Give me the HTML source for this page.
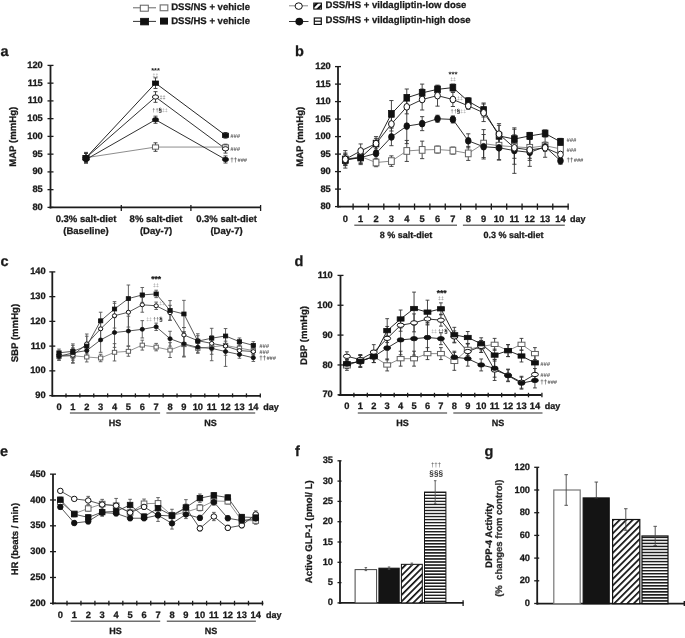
<!DOCTYPE html><html><head><meta charset="utf-8"><style>html,body{margin:0;padding:0;background:#fff;}svg{display:block;filter:blur(0.3px);}text{font-family:"Liberation Sans", sans-serif;text-rendering:geometricPrecision;}</style></head><body>
<svg width="685" height="638" viewBox="0 0 685 638">
<rect width="685" height="638" fill="#fff"/>
<defs><pattern id="diag" patternUnits="userSpaceOnUse" width="4.6" height="4.6" patternTransform="rotate(45)"><rect width="4.6" height="4.6" fill="#fff"/><rect x="0" y="0" width="1.7" height="4.6" fill="#111"/></pattern><pattern id="hstr" patternUnits="userSpaceOnUse" x="0" y="0.695" width="6" height="3.03"><rect width="6" height="3.03" fill="#fff"/><rect x="0" y="0" width="6" height="1.5" fill="#1e1e1e"/></pattern><pattern id="hstrg" patternUnits="userSpaceOnUse" x="0" y="0.245" width="6" height="3.03"><rect width="6" height="3.03" fill="#fff"/><rect x="0" y="0" width="6" height="1.6" fill="#1e1e1e"/></pattern></defs>
<line x1="133" y1="7.8" x2="156" y2="7.8" stroke="#666" stroke-width="1" />
<rect x="140.3" y="5.2" width="8" height="6" fill="#fff" stroke="#606060" stroke-width="1"/>
<rect x="160.2" y="4.9" width="7.6" height="5.8" fill="#fff" stroke="#777" stroke-width="1.2"/>
<text x="171.2" y="9.9" font-size="9.55" text-anchor="start" font-weight="bold" fill="#1a1a1a" stroke="#1a1a1a" stroke-width="0.28">DSS/NS + vehicle</text>
<line x1="133" y1="21.4" x2="156" y2="21.4" stroke="#333" stroke-width="1.0" />
<rect x="140.6" y="18.3" width="8" height="6.6" fill="#111" stroke="#111" stroke-width="0.8"/>
<rect x="160" y="17.6" width="8" height="7" fill="#111"/>
<text x="171.2" y="23.7" font-size="9.55" text-anchor="start" font-weight="bold" fill="#1a1a1a" stroke="#1a1a1a" stroke-width="0.28">DSS/HS + vehicle</text>
<line x1="289" y1="5.8" x2="308" y2="5.8" stroke="#888" stroke-width="1" />
<ellipse cx="298.7" cy="6.1" rx="3.6" ry="3.3" fill="#fff" stroke="#111" stroke-width="1"/>
<rect x="313.8" y="3.1" width="7.6" height="6" fill="#fff" stroke="#111" stroke-width="1.1"/>
<clipPath id="lgc"><rect x="313.8" y="3.1" width="7.6" height="5.8"/></clipPath><g clip-path="url(#lgc)"><path d="M312.6 7.6 L318.2 2.0 M316.6 10.2 L322.6 4.2" stroke="#111" stroke-width="2.2" fill="none"/></g>
<text x="325.5" y="8" font-size="9.55" text-anchor="start" font-weight="bold" fill="#1a1a1a" stroke="#1a1a1a" stroke-width="0.28">DSS/HS + vildagliptin-low dose</text>
<line x1="289" y1="21.5" x2="308.5" y2="21.5" stroke="#333" stroke-width="1.0" />
<ellipse cx="299.3" cy="21.6" rx="3.9" ry="3.8" fill="#111"/>
<rect x="314.3" y="18" width="7" height="6.4" fill="#fff" stroke="#111" stroke-width="1.2"/>
<line x1="314.3" y1="21.2" x2="321.3" y2="21.2" stroke="#111" stroke-width="1.2" />
<text x="325.5" y="22.8" font-size="9.55" text-anchor="start" font-weight="bold" fill="#1a1a1a" stroke="#1a1a1a" stroke-width="0.28">DSS/HS + vildagliptin-high dose</text>
<text x="0.5" y="55.8" font-size="14.5" text-anchor="start" font-weight="bold" fill="#1a1a1a" stroke="#1a1a1a" stroke-width="0.28">a</text>
<line x1="50.5" y1="65.4" x2="50.5" y2="208.5" stroke="#1c1c1c" stroke-width="1.8" />
<line x1="47.5" y1="207.4" x2="53.5" y2="207.4" stroke="#1c1c1c" stroke-width="1.3" />
<text x="42.8" y="209.95" font-size="9.3" text-anchor="end" font-weight="bold" fill="#1a1a1a" stroke="#1a1a1a" stroke-width="0.28">80</text>
<line x1="47.5" y1="189.65" x2="53.5" y2="189.65" stroke="#1c1c1c" stroke-width="1.3" />
<text x="42.8" y="192.2" font-size="9.3" text-anchor="end" font-weight="bold" fill="#1a1a1a" stroke="#1a1a1a" stroke-width="0.28">85</text>
<line x1="47.5" y1="171.9" x2="53.5" y2="171.9" stroke="#1c1c1c" stroke-width="1.3" />
<text x="42.8" y="174.45" font-size="9.3" text-anchor="end" font-weight="bold" fill="#1a1a1a" stroke="#1a1a1a" stroke-width="0.28">90</text>
<line x1="47.5" y1="154.15" x2="53.5" y2="154.15" stroke="#1c1c1c" stroke-width="1.3" />
<text x="42.8" y="156.7" font-size="9.3" text-anchor="end" font-weight="bold" fill="#1a1a1a" stroke="#1a1a1a" stroke-width="0.28">95</text>
<line x1="47.5" y1="136.4" x2="53.5" y2="136.4" stroke="#1c1c1c" stroke-width="1.3" />
<text x="42.8" y="138.95" font-size="9.3" text-anchor="end" font-weight="bold" fill="#1a1a1a" stroke="#1a1a1a" stroke-width="0.28">100</text>
<line x1="47.5" y1="118.65" x2="53.5" y2="118.65" stroke="#1c1c1c" stroke-width="1.3" />
<text x="42.8" y="121.2" font-size="9.3" text-anchor="end" font-weight="bold" fill="#1a1a1a" stroke="#1a1a1a" stroke-width="0.28">105</text>
<line x1="47.5" y1="100.9" x2="53.5" y2="100.9" stroke="#1c1c1c" stroke-width="1.3" />
<text x="42.8" y="103.45" font-size="9.3" text-anchor="end" font-weight="bold" fill="#1a1a1a" stroke="#1a1a1a" stroke-width="0.28">110</text>
<line x1="47.5" y1="83.15" x2="53.5" y2="83.15" stroke="#1c1c1c" stroke-width="1.3" />
<text x="42.8" y="85.7" font-size="9.3" text-anchor="end" font-weight="bold" fill="#1a1a1a" stroke="#1a1a1a" stroke-width="0.28">115</text>
<line x1="47.5" y1="65.4" x2="53.5" y2="65.4" stroke="#1c1c1c" stroke-width="1.3" />
<text x="42.8" y="67.95" font-size="9.3" text-anchor="end" font-weight="bold" fill="#1a1a1a" stroke="#1a1a1a" stroke-width="0.28">120</text>
<line x1="49.6" y1="207.4" x2="261" y2="207.4" stroke="#1c1c1c" stroke-width="1.8" />
<line x1="121.3" y1="205" x2="121.3" y2="211" stroke="#1c1c1c" stroke-width="1.3" />
<line x1="190.9" y1="205" x2="190.9" y2="211" stroke="#1c1c1c" stroke-width="1.3" />
<line x1="260.6" y1="205" x2="260.6" y2="211" stroke="#1c1c1c" stroke-width="1.3" />
<text transform="translate(13,136.8) rotate(-90)" x="0" y="3.46" font-size="9.6" text-anchor="middle" font-weight="bold" fill="#1a1a1a" stroke="#1a1a1a" stroke-width="0.28">MAP (mmHg)</text>
<text x="86" y="222.1" font-size="9.5" text-anchor="middle" font-weight="bold" fill="#1a1a1a" stroke="#1a1a1a" stroke-width="0.28">0.3% salt-diet</text>
<text x="86" y="233.7" font-size="9.5" text-anchor="middle" font-weight="bold" fill="#1a1a1a" stroke="#1a1a1a" stroke-width="0.28">(Baseline)</text>
<text x="156" y="222.1" font-size="9.5" text-anchor="middle" font-weight="bold" fill="#1a1a1a" stroke="#1a1a1a" stroke-width="0.28">8% salt-diet</text>
<text x="156" y="233.7" font-size="9.5" text-anchor="middle" font-weight="bold" fill="#1a1a1a" stroke="#1a1a1a" stroke-width="0.28">(Day-7)</text>
<text x="226.5" y="222.1" font-size="9.5" text-anchor="middle" font-weight="bold" fill="#1a1a1a" stroke="#1a1a1a" stroke-width="0.28">0.3% salt-diet</text>
<text x="226.5" y="233.7" font-size="9.5" text-anchor="middle" font-weight="bold" fill="#1a1a1a" stroke="#1a1a1a" stroke-width="0.28">(Day-7)</text>
<polyline points="86,157.7 155.5,147.05 225.5,147.05" fill="none" stroke="#808080" stroke-width="0.9"/>
<polyline points="86,157.7 155.5,97 225.5,148.83" fill="none" stroke="#1a1a1a" stroke-width="0.9"/>
<polyline points="86,157.7 155.5,83.15 225.5,135.34" fill="none" stroke="#1a1a1a" stroke-width="0.95"/>
<polyline points="86,159.48 155.5,119.72 225.5,159.48" fill="none" stroke="#1a1a1a" stroke-width="0.9"/>
<line x1="86" y1="152.38" x2="86" y2="163.03" stroke="#333" stroke-width="0.9" />
<line x1="84" y1="152.38" x2="88" y2="152.38" stroke="#333" stroke-width="0.9" />
<line x1="84" y1="163.03" x2="88" y2="163.03" stroke="#333" stroke-width="0.9" />
<line x1="155.5" y1="142.79" x2="155.5" y2="151.31" stroke="#333" stroke-width="0.9" />
<line x1="153.5" y1="142.79" x2="157.5" y2="142.79" stroke="#333" stroke-width="0.9" />
<line x1="153.5" y1="151.31" x2="157.5" y2="151.31" stroke="#333" stroke-width="0.9" />
<line x1="225.5" y1="144.21" x2="225.5" y2="149.89" stroke="#333" stroke-width="0.9" />
<line x1="223.5" y1="144.21" x2="227.5" y2="144.21" stroke="#333" stroke-width="0.9" />
<line x1="223.5" y1="149.89" x2="227.5" y2="149.89" stroke="#333" stroke-width="0.9" />
<line x1="86" y1="153.44" x2="86" y2="161.96" stroke="#333" stroke-width="0.9" />
<line x1="84" y1="153.44" x2="88" y2="153.44" stroke="#333" stroke-width="0.9" />
<line x1="84" y1="161.96" x2="88" y2="161.96" stroke="#333" stroke-width="0.9" />
<line x1="155.5" y1="91.67" x2="155.5" y2="102.32" stroke="#333" stroke-width="0.9" />
<line x1="153.5" y1="91.67" x2="157.5" y2="91.67" stroke="#333" stroke-width="0.9" />
<line x1="153.5" y1="102.32" x2="157.5" y2="102.32" stroke="#333" stroke-width="0.9" />
<line x1="225.5" y1="144.56" x2="225.5" y2="153.09" stroke="#333" stroke-width="0.9" />
<line x1="223.5" y1="144.56" x2="227.5" y2="144.56" stroke="#333" stroke-width="0.9" />
<line x1="223.5" y1="153.09" x2="227.5" y2="153.09" stroke="#333" stroke-width="0.9" />
<line x1="86" y1="153.44" x2="86" y2="161.96" stroke="#333" stroke-width="0.9" />
<line x1="84" y1="153.44" x2="88" y2="153.44" stroke="#333" stroke-width="0.9" />
<line x1="84" y1="161.96" x2="88" y2="161.96" stroke="#333" stroke-width="0.9" />
<line x1="155.5" y1="77.83" x2="155.5" y2="88.48" stroke="#333" stroke-width="0.9" />
<line x1="153.5" y1="77.83" x2="157.5" y2="77.83" stroke="#333" stroke-width="0.9" />
<line x1="153.5" y1="88.48" x2="157.5" y2="88.48" stroke="#333" stroke-width="0.9" />
<line x1="225.5" y1="132.5" x2="225.5" y2="138.18" stroke="#333" stroke-width="0.9" />
<line x1="223.5" y1="132.5" x2="227.5" y2="132.5" stroke="#333" stroke-width="0.9" />
<line x1="223.5" y1="138.18" x2="227.5" y2="138.18" stroke="#333" stroke-width="0.9" />
<line x1="86" y1="155.93" x2="86" y2="163.03" stroke="#333" stroke-width="0.9" />
<line x1="84" y1="155.93" x2="88" y2="155.93" stroke="#333" stroke-width="0.9" />
<line x1="84" y1="163.03" x2="88" y2="163.03" stroke="#333" stroke-width="0.9" />
<line x1="155.5" y1="116.17" x2="155.5" y2="123.27" stroke="#333" stroke-width="0.9" />
<line x1="153.5" y1="116.17" x2="157.5" y2="116.17" stroke="#333" stroke-width="0.9" />
<line x1="153.5" y1="123.27" x2="157.5" y2="123.27" stroke="#333" stroke-width="0.9" />
<line x1="225.5" y1="155.93" x2="225.5" y2="163.03" stroke="#333" stroke-width="0.9" />
<line x1="223.5" y1="155.93" x2="227.5" y2="155.93" stroke="#333" stroke-width="0.9" />
<line x1="223.5" y1="163.03" x2="227.5" y2="163.03" stroke="#333" stroke-width="0.9" />
<rect x="82.95" y="155.55" width="6.1" height="4.3" fill="#fff" stroke="#606060" stroke-width="1"/>
<rect x="152.45" y="144.9" width="6.1" height="4.3" fill="#fff" stroke="#606060" stroke-width="1"/>
<rect x="222.45" y="144.9" width="6.1" height="4.3" fill="#fff" stroke="#606060" stroke-width="1"/>
<ellipse cx="86" cy="157.7" rx="3.05" ry="2.15" fill="#fff" stroke="#111" stroke-width="1"/>
<ellipse cx="155.5" cy="97" rx="3.05" ry="2.15" fill="#fff" stroke="#111" stroke-width="1"/>
<ellipse cx="225.5" cy="148.83" rx="3.05" ry="2.15" fill="#fff" stroke="#111" stroke-width="1"/>
<rect x="82.95" y="155.55" width="6.1" height="4.3" fill="#111" stroke="#111" stroke-width="0.8"/>
<rect x="152.45" y="81" width="6.1" height="4.3" fill="#111" stroke="#111" stroke-width="0.8"/>
<rect x="222.45" y="133.19" width="6.1" height="4.3" fill="#111" stroke="#111" stroke-width="0.8"/>
<ellipse cx="86" cy="159.48" rx="3.05" ry="2.15" fill="#111" stroke="#111" stroke-width="0.8"/>
<ellipse cx="155.5" cy="119.72" rx="3.05" ry="2.15" fill="#111" stroke="#111" stroke-width="0.8"/>
<ellipse cx="225.5" cy="159.48" rx="3.05" ry="2.15" fill="#111" stroke="#111" stroke-width="0.8"/>
<text x="155.5" y="73" font-size="7.4" text-anchor="middle" font-weight="bold" fill="#1a1a1a" >***</text>
<text x="155.5" y="77" font-size="5.2" text-anchor="middle" font-weight="normal" fill="#888" >‡‡</text>
<text x="159.5" y="99" font-size="5.5" text-anchor="start" font-weight="normal" fill="#777" >‡‡</text>
<text x="152.3" y="112.3" text-anchor="start"><tspan fill="#444" font-weight="normal" font-size="5.6">††</tspan><tspan fill="#111" font-weight="bold" font-size="6.2">§</tspan><tspan fill="#999" font-weight="normal" font-size="5.2">‡‡</tspan></text>
<text x="230.3" y="137.7" font-size="5.8" font-weight="bold" font-style="italic" fill="#555">###</text>
<text x="230.3" y="150.5" font-size="5.8" font-weight="bold" font-style="italic" fill="#555">###</text>
<text x="230.3" y="162" font-size="5.6" font-weight="bold" fill="#444"><tspan font-size="6.2">††</tspan><tspan dx="0.4" font-style="italic" fill="#555">###</tspan></text>
<text x="295" y="55.8" font-size="14.5" text-anchor="start" font-weight="bold" fill="#1a1a1a" stroke="#1a1a1a" stroke-width="0.28">b</text>
<line x1="338" y1="66.6" x2="338" y2="207.5" stroke="#1c1c1c" stroke-width="1.8" />
<line x1="335" y1="206.6" x2="341" y2="206.6" stroke="#1c1c1c" stroke-width="1.3" />
<text x="330.8" y="209.15" font-size="9.3" text-anchor="end" font-weight="bold" fill="#1a1a1a" stroke="#1a1a1a" stroke-width="0.28">80</text>
<line x1="335" y1="189.1" x2="341" y2="189.1" stroke="#1c1c1c" stroke-width="1.3" />
<text x="330.8" y="191.65" font-size="9.3" text-anchor="end" font-weight="bold" fill="#1a1a1a" stroke="#1a1a1a" stroke-width="0.28">85</text>
<line x1="335" y1="171.6" x2="341" y2="171.6" stroke="#1c1c1c" stroke-width="1.3" />
<text x="330.8" y="174.15" font-size="9.3" text-anchor="end" font-weight="bold" fill="#1a1a1a" stroke="#1a1a1a" stroke-width="0.28">90</text>
<line x1="335" y1="154.1" x2="341" y2="154.1" stroke="#1c1c1c" stroke-width="1.3" />
<text x="330.8" y="156.65" font-size="9.3" text-anchor="end" font-weight="bold" fill="#1a1a1a" stroke="#1a1a1a" stroke-width="0.28">95</text>
<line x1="335" y1="136.6" x2="341" y2="136.6" stroke="#1c1c1c" stroke-width="1.3" />
<text x="330.8" y="139.15" font-size="9.3" text-anchor="end" font-weight="bold" fill="#1a1a1a" stroke="#1a1a1a" stroke-width="0.28">100</text>
<line x1="335" y1="119.1" x2="341" y2="119.1" stroke="#1c1c1c" stroke-width="1.3" />
<text x="330.8" y="121.65" font-size="9.3" text-anchor="end" font-weight="bold" fill="#1a1a1a" stroke="#1a1a1a" stroke-width="0.28">105</text>
<line x1="335" y1="101.6" x2="341" y2="101.6" stroke="#1c1c1c" stroke-width="1.3" />
<text x="330.8" y="104.15" font-size="9.3" text-anchor="end" font-weight="bold" fill="#1a1a1a" stroke="#1a1a1a" stroke-width="0.28">110</text>
<line x1="335" y1="84.1" x2="341" y2="84.1" stroke="#1c1c1c" stroke-width="1.3" />
<text x="330.8" y="86.65" font-size="9.3" text-anchor="end" font-weight="bold" fill="#1a1a1a" stroke="#1a1a1a" stroke-width="0.28">115</text>
<line x1="335" y1="66.6" x2="341" y2="66.6" stroke="#1c1c1c" stroke-width="1.3" />
<text x="330.8" y="69.15" font-size="9.3" text-anchor="end" font-weight="bold" fill="#1a1a1a" stroke="#1a1a1a" stroke-width="0.28">120</text>
<line x1="337.6" y1="206.6" x2="568.6" y2="206.6" stroke="#1c1c1c" stroke-width="1.8" />
<line x1="353.1" y1="203.5" x2="353.1" y2="209.8" stroke="#1c1c1c" stroke-width="1.3" />
<line x1="368.46" y1="203.5" x2="368.46" y2="209.8" stroke="#1c1c1c" stroke-width="1.3" />
<line x1="383.82" y1="203.5" x2="383.82" y2="209.8" stroke="#1c1c1c" stroke-width="1.3" />
<line x1="399.18" y1="203.5" x2="399.18" y2="209.8" stroke="#1c1c1c" stroke-width="1.3" />
<line x1="414.54" y1="203.5" x2="414.54" y2="209.8" stroke="#1c1c1c" stroke-width="1.3" />
<line x1="429.9" y1="203.5" x2="429.9" y2="209.8" stroke="#1c1c1c" stroke-width="1.3" />
<line x1="445.26" y1="203.5" x2="445.26" y2="209.8" stroke="#1c1c1c" stroke-width="1.3" />
<line x1="460.62" y1="203.5" x2="460.62" y2="209.8" stroke="#1c1c1c" stroke-width="1.3" />
<line x1="475.98" y1="203.5" x2="475.98" y2="209.8" stroke="#1c1c1c" stroke-width="1.3" />
<line x1="491.34" y1="203.5" x2="491.34" y2="209.8" stroke="#1c1c1c" stroke-width="1.3" />
<line x1="506.7" y1="203.5" x2="506.7" y2="209.8" stroke="#1c1c1c" stroke-width="1.3" />
<line x1="522.06" y1="203.5" x2="522.06" y2="209.8" stroke="#1c1c1c" stroke-width="1.3" />
<line x1="537.42" y1="203.5" x2="537.42" y2="209.8" stroke="#1c1c1c" stroke-width="1.3" />
<line x1="552.78" y1="203.5" x2="552.78" y2="209.8" stroke="#1c1c1c" stroke-width="1.3" />
<line x1="568.14" y1="203.5" x2="568.14" y2="209.8" stroke="#1c1c1c" stroke-width="1.3" />
<text transform="translate(299.8,136.8) rotate(-90)" x="0" y="3.46" font-size="9.6" text-anchor="middle" font-weight="bold" fill="#1a1a1a" stroke="#1a1a1a" stroke-width="0.28">MAP (mmHg)</text>
<text x="345.3" y="222.3" font-size="9.3" text-anchor="middle" font-weight="bold" fill="#1a1a1a" stroke="#1a1a1a" stroke-width="0.28">0</text>
<text x="360.67" y="222.3" font-size="9.3" text-anchor="middle" font-weight="bold" fill="#1a1a1a" stroke="#1a1a1a" stroke-width="0.28">1</text>
<text x="376.04" y="222.3" font-size="9.3" text-anchor="middle" font-weight="bold" fill="#1a1a1a" stroke="#1a1a1a" stroke-width="0.28">2</text>
<text x="391.41" y="222.3" font-size="9.3" text-anchor="middle" font-weight="bold" fill="#1a1a1a" stroke="#1a1a1a" stroke-width="0.28">3</text>
<text x="406.78" y="222.3" font-size="9.3" text-anchor="middle" font-weight="bold" fill="#1a1a1a" stroke="#1a1a1a" stroke-width="0.28">4</text>
<text x="422.15" y="222.3" font-size="9.3" text-anchor="middle" font-weight="bold" fill="#1a1a1a" stroke="#1a1a1a" stroke-width="0.28">5</text>
<text x="437.52" y="222.3" font-size="9.3" text-anchor="middle" font-weight="bold" fill="#1a1a1a" stroke="#1a1a1a" stroke-width="0.28">6</text>
<text x="452.89" y="222.3" font-size="9.3" text-anchor="middle" font-weight="bold" fill="#1a1a1a" stroke="#1a1a1a" stroke-width="0.28">7</text>
<text x="468.26" y="222.3" font-size="9.3" text-anchor="middle" font-weight="bold" fill="#1a1a1a" stroke="#1a1a1a" stroke-width="0.28">8</text>
<text x="483.63" y="222.3" font-size="9.3" text-anchor="middle" font-weight="bold" fill="#1a1a1a" stroke="#1a1a1a" stroke-width="0.28">9</text>
<text x="499" y="222.3" font-size="9.3" text-anchor="middle" font-weight="bold" fill="#1a1a1a" stroke="#1a1a1a" stroke-width="0.28">10</text>
<text x="514.37" y="222.3" font-size="9.3" text-anchor="middle" font-weight="bold" fill="#1a1a1a" stroke="#1a1a1a" stroke-width="0.28">11</text>
<text x="529.74" y="222.3" font-size="9.3" text-anchor="middle" font-weight="bold" fill="#1a1a1a" stroke="#1a1a1a" stroke-width="0.28">12</text>
<text x="545.11" y="222.3" font-size="9.3" text-anchor="middle" font-weight="bold" fill="#1a1a1a" stroke="#1a1a1a" stroke-width="0.28">13</text>
<text x="560.48" y="222.3" font-size="9.3" text-anchor="middle" font-weight="bold" fill="#1a1a1a" stroke="#1a1a1a" stroke-width="0.28">14</text>
<text x="570" y="222.3" font-size="9" text-anchor="start" font-weight="bold" fill="#1a1a1a" stroke="#1a1a1a" stroke-width="0.28">day</text>
<line x1="354.3" y1="225.3" x2="457" y2="225.3" stroke="#707070" stroke-width="1.6" />
<line x1="462.9" y1="225.3" x2="564.8" y2="225.3" stroke="#707070" stroke-width="1.6" />
<text x="405.9" y="238" font-size="9" text-anchor="middle" font-weight="bold" fill="#1a1a1a" stroke="#1a1a1a" stroke-width="0.28">8 % salt-diet</text>
<text x="513.6" y="238" font-size="9" text-anchor="middle" font-weight="bold" fill="#1a1a1a" stroke="#1a1a1a" stroke-width="0.28">0.3 % salt-diet</text>
<polyline points="345.3,159.35 360.67,156.55 376.04,162.5 391.41,161.1 406.78,150.95 422.15,149.9 437.52,149.55 452.89,150.6 468.26,153.4 483.63,143.6 499,145.7 514.37,146.75 529.74,147.8 545.11,145.7 560.48,148.85" fill="none" stroke="#808080" stroke-width="0.9"/>
<polyline points="345.3,160.05 360.67,157.6 376.04,143.6 391.41,113.85 406.78,97.75 422.15,92.85 437.52,89.35 452.89,87.6 468.26,101.25 483.63,110 499,135.9 514.37,139.05 529.74,135.9 545.11,133.45 560.48,141.85" fill="none" stroke="#1a1a1a" stroke-width="0.95"/>
<polyline points="345.3,159.35 360.67,157.6 376.04,153.4 391.41,136.95 406.78,126.1 422.15,123.65 437.52,118.75 452.89,119.45 468.26,140.8 483.63,146.75 499,147.8 514.37,150.6 529.74,152.35 545.11,146.75 560.48,160.75" fill="none" stroke="#1a1a1a" stroke-width="0.9"/>
<polyline points="345.3,159.35 360.67,150.95 376.04,143.6 391.41,124 406.78,106.85 422.15,99.5 437.52,95.65 452.89,99.5 468.26,105.8 483.63,112.8 499,134.15 514.37,147.8 529.74,149.9 545.11,147.8 560.48,154.45" fill="none" stroke="#1a1a1a" stroke-width="0.9"/>
<line x1="345.3" y1="150.6" x2="345.3" y2="168.1" stroke="#333" stroke-width="0.9" />
<line x1="343.2" y1="150.6" x2="347.4" y2="150.6" stroke="#333" stroke-width="0.9" />
<line x1="343.2" y1="168.1" x2="347.4" y2="168.1" stroke="#333" stroke-width="0.9" />
<line x1="360.67" y1="149.55" x2="360.67" y2="163.55" stroke="#333" stroke-width="0.9" />
<line x1="358.57" y1="149.55" x2="362.77" y2="149.55" stroke="#333" stroke-width="0.9" />
<line x1="358.57" y1="163.55" x2="362.77" y2="163.55" stroke="#333" stroke-width="0.9" />
<line x1="376.04" y1="158.3" x2="376.04" y2="166.7" stroke="#333" stroke-width="0.9" />
<line x1="373.94" y1="158.3" x2="378.14" y2="158.3" stroke="#333" stroke-width="0.9" />
<line x1="373.94" y1="166.7" x2="378.14" y2="166.7" stroke="#333" stroke-width="0.9" />
<line x1="391.41" y1="155.85" x2="391.41" y2="166.35" stroke="#333" stroke-width="0.9" />
<line x1="389.31" y1="155.85" x2="393.51" y2="155.85" stroke="#333" stroke-width="0.9" />
<line x1="389.31" y1="166.35" x2="393.51" y2="166.35" stroke="#333" stroke-width="0.9" />
<line x1="406.78" y1="140.45" x2="406.78" y2="161.45" stroke="#333" stroke-width="0.9" />
<line x1="404.68" y1="140.45" x2="408.88" y2="140.45" stroke="#333" stroke-width="0.9" />
<line x1="404.68" y1="161.45" x2="408.88" y2="161.45" stroke="#333" stroke-width="0.9" />
<line x1="422.15" y1="141.15" x2="422.15" y2="158.65" stroke="#333" stroke-width="0.9" />
<line x1="420.05" y1="141.15" x2="424.25" y2="141.15" stroke="#333" stroke-width="0.9" />
<line x1="420.05" y1="158.65" x2="424.25" y2="158.65" stroke="#333" stroke-width="0.9" />
<line x1="437.52" y1="146.05" x2="437.52" y2="153.05" stroke="#333" stroke-width="0.9" />
<line x1="435.42" y1="146.05" x2="439.62" y2="146.05" stroke="#333" stroke-width="0.9" />
<line x1="435.42" y1="153.05" x2="439.62" y2="153.05" stroke="#333" stroke-width="0.9" />
<line x1="452.89" y1="147.1" x2="452.89" y2="154.1" stroke="#333" stroke-width="0.9" />
<line x1="450.79" y1="147.1" x2="454.99" y2="147.1" stroke="#333" stroke-width="0.9" />
<line x1="450.79" y1="154.1" x2="454.99" y2="154.1" stroke="#333" stroke-width="0.9" />
<line x1="468.26" y1="146.4" x2="468.26" y2="160.4" stroke="#333" stroke-width="0.9" />
<line x1="466.16" y1="146.4" x2="470.36" y2="146.4" stroke="#333" stroke-width="0.9" />
<line x1="466.16" y1="160.4" x2="470.36" y2="160.4" stroke="#333" stroke-width="0.9" />
<line x1="483.63" y1="129.6" x2="483.63" y2="157.6" stroke="#333" stroke-width="0.9" />
<line x1="481.53" y1="129.6" x2="485.73" y2="129.6" stroke="#333" stroke-width="0.9" />
<line x1="481.53" y1="157.6" x2="485.73" y2="157.6" stroke="#333" stroke-width="0.9" />
<line x1="499" y1="131.7" x2="499" y2="159.7" stroke="#333" stroke-width="0.9" />
<line x1="496.9" y1="131.7" x2="501.1" y2="131.7" stroke="#333" stroke-width="0.9" />
<line x1="496.9" y1="159.7" x2="501.1" y2="159.7" stroke="#333" stroke-width="0.9" />
<line x1="514.37" y1="129.25" x2="514.37" y2="164.25" stroke="#333" stroke-width="0.9" />
<line x1="512.27" y1="129.25" x2="516.47" y2="129.25" stroke="#333" stroke-width="0.9" />
<line x1="512.27" y1="164.25" x2="516.47" y2="164.25" stroke="#333" stroke-width="0.9" />
<line x1="529.74" y1="137.3" x2="529.74" y2="158.3" stroke="#333" stroke-width="0.9" />
<line x1="527.64" y1="137.3" x2="531.84" y2="137.3" stroke="#333" stroke-width="0.9" />
<line x1="527.64" y1="158.3" x2="531.84" y2="158.3" stroke="#333" stroke-width="0.9" />
<line x1="545.11" y1="142.2" x2="545.11" y2="149.2" stroke="#333" stroke-width="0.9" />
<line x1="543.01" y1="142.2" x2="547.21" y2="142.2" stroke="#333" stroke-width="0.9" />
<line x1="543.01" y1="149.2" x2="547.21" y2="149.2" stroke="#333" stroke-width="0.9" />
<line x1="560.48" y1="145.35" x2="560.48" y2="152.35" stroke="#333" stroke-width="0.9" />
<line x1="558.38" y1="145.35" x2="562.58" y2="145.35" stroke="#333" stroke-width="0.9" />
<line x1="558.38" y1="152.35" x2="562.58" y2="152.35" stroke="#333" stroke-width="0.9" />
<line x1="345.3" y1="154.8" x2="345.3" y2="165.3" stroke="#333" stroke-width="0.9" />
<line x1="343.2" y1="154.8" x2="347.4" y2="154.8" stroke="#333" stroke-width="0.9" />
<line x1="343.2" y1="165.3" x2="347.4" y2="165.3" stroke="#333" stroke-width="0.9" />
<line x1="360.67" y1="152.35" x2="360.67" y2="162.85" stroke="#333" stroke-width="0.9" />
<line x1="358.57" y1="152.35" x2="362.77" y2="152.35" stroke="#333" stroke-width="0.9" />
<line x1="358.57" y1="162.85" x2="362.77" y2="162.85" stroke="#333" stroke-width="0.9" />
<line x1="376.04" y1="136.6" x2="376.04" y2="150.6" stroke="#333" stroke-width="0.9" />
<line x1="373.94" y1="136.6" x2="378.14" y2="136.6" stroke="#333" stroke-width="0.9" />
<line x1="373.94" y1="150.6" x2="378.14" y2="150.6" stroke="#333" stroke-width="0.9" />
<line x1="391.41" y1="100.55" x2="391.41" y2="127.15" stroke="#333" stroke-width="0.9" />
<line x1="389.31" y1="100.55" x2="393.51" y2="100.55" stroke="#333" stroke-width="0.9" />
<line x1="389.31" y1="127.15" x2="393.51" y2="127.15" stroke="#333" stroke-width="0.9" />
<line x1="406.78" y1="89" x2="406.78" y2="106.5" stroke="#333" stroke-width="0.9" />
<line x1="404.68" y1="89" x2="408.88" y2="89" stroke="#333" stroke-width="0.9" />
<line x1="404.68" y1="106.5" x2="408.88" y2="106.5" stroke="#333" stroke-width="0.9" />
<line x1="422.15" y1="84.1" x2="422.15" y2="101.6" stroke="#333" stroke-width="0.9" />
<line x1="420.05" y1="84.1" x2="424.25" y2="84.1" stroke="#333" stroke-width="0.9" />
<line x1="420.05" y1="101.6" x2="424.25" y2="101.6" stroke="#333" stroke-width="0.9" />
<line x1="437.52" y1="85.85" x2="437.52" y2="92.85" stroke="#333" stroke-width="0.9" />
<line x1="435.42" y1="85.85" x2="439.62" y2="85.85" stroke="#333" stroke-width="0.9" />
<line x1="435.42" y1="92.85" x2="439.62" y2="92.85" stroke="#333" stroke-width="0.9" />
<line x1="452.89" y1="84.1" x2="452.89" y2="91.1" stroke="#333" stroke-width="0.9" />
<line x1="450.79" y1="84.1" x2="454.99" y2="84.1" stroke="#333" stroke-width="0.9" />
<line x1="450.79" y1="91.1" x2="454.99" y2="91.1" stroke="#333" stroke-width="0.9" />
<line x1="468.26" y1="97.75" x2="468.26" y2="104.75" stroke="#333" stroke-width="0.9" />
<line x1="466.16" y1="97.75" x2="470.36" y2="97.75" stroke="#333" stroke-width="0.9" />
<line x1="466.16" y1="104.75" x2="470.36" y2="104.75" stroke="#333" stroke-width="0.9" />
<line x1="483.63" y1="103" x2="483.63" y2="117" stroke="#333" stroke-width="0.9" />
<line x1="481.53" y1="103" x2="485.73" y2="103" stroke="#333" stroke-width="0.9" />
<line x1="481.53" y1="117" x2="485.73" y2="117" stroke="#333" stroke-width="0.9" />
<line x1="499" y1="125.4" x2="499" y2="146.4" stroke="#333" stroke-width="0.9" />
<line x1="496.9" y1="125.4" x2="501.1" y2="125.4" stroke="#333" stroke-width="0.9" />
<line x1="496.9" y1="146.4" x2="501.1" y2="146.4" stroke="#333" stroke-width="0.9" />
<line x1="514.37" y1="134.85" x2="514.37" y2="143.25" stroke="#333" stroke-width="0.9" />
<line x1="512.27" y1="134.85" x2="516.47" y2="134.85" stroke="#333" stroke-width="0.9" />
<line x1="512.27" y1="143.25" x2="516.47" y2="143.25" stroke="#333" stroke-width="0.9" />
<line x1="529.74" y1="132.4" x2="529.74" y2="139.4" stroke="#333" stroke-width="0.9" />
<line x1="527.64" y1="132.4" x2="531.84" y2="132.4" stroke="#333" stroke-width="0.9" />
<line x1="527.64" y1="139.4" x2="531.84" y2="139.4" stroke="#333" stroke-width="0.9" />
<line x1="545.11" y1="129.95" x2="545.11" y2="136.95" stroke="#333" stroke-width="0.9" />
<line x1="543.01" y1="129.95" x2="547.21" y2="129.95" stroke="#333" stroke-width="0.9" />
<line x1="543.01" y1="136.95" x2="547.21" y2="136.95" stroke="#333" stroke-width="0.9" />
<line x1="560.48" y1="138.35" x2="560.48" y2="145.35" stroke="#333" stroke-width="0.9" />
<line x1="558.38" y1="138.35" x2="562.58" y2="138.35" stroke="#333" stroke-width="0.9" />
<line x1="558.38" y1="145.35" x2="562.58" y2="145.35" stroke="#333" stroke-width="0.9" />
<line x1="345.3" y1="153.05" x2="345.3" y2="165.65" stroke="#333" stroke-width="0.9" />
<line x1="343.2" y1="153.05" x2="347.4" y2="153.05" stroke="#333" stroke-width="0.9" />
<line x1="343.2" y1="165.65" x2="347.4" y2="165.65" stroke="#333" stroke-width="0.9" />
<line x1="360.67" y1="150.6" x2="360.67" y2="164.6" stroke="#333" stroke-width="0.9" />
<line x1="358.57" y1="150.6" x2="362.77" y2="150.6" stroke="#333" stroke-width="0.9" />
<line x1="358.57" y1="164.6" x2="362.77" y2="164.6" stroke="#333" stroke-width="0.9" />
<line x1="376.04" y1="146.4" x2="376.04" y2="160.4" stroke="#333" stroke-width="0.9" />
<line x1="373.94" y1="146.4" x2="378.14" y2="146.4" stroke="#333" stroke-width="0.9" />
<line x1="373.94" y1="160.4" x2="378.14" y2="160.4" stroke="#333" stroke-width="0.9" />
<line x1="391.41" y1="128.2" x2="391.41" y2="145.7" stroke="#333" stroke-width="0.9" />
<line x1="389.31" y1="128.2" x2="393.51" y2="128.2" stroke="#333" stroke-width="0.9" />
<line x1="389.31" y1="145.7" x2="393.51" y2="145.7" stroke="#333" stroke-width="0.9" />
<line x1="406.78" y1="108.6" x2="406.78" y2="143.6" stroke="#333" stroke-width="0.9" />
<line x1="404.68" y1="108.6" x2="408.88" y2="108.6" stroke="#333" stroke-width="0.9" />
<line x1="404.68" y1="143.6" x2="408.88" y2="143.6" stroke="#333" stroke-width="0.9" />
<line x1="422.15" y1="116.65" x2="422.15" y2="130.65" stroke="#333" stroke-width="0.9" />
<line x1="420.05" y1="116.65" x2="424.25" y2="116.65" stroke="#333" stroke-width="0.9" />
<line x1="420.05" y1="130.65" x2="424.25" y2="130.65" stroke="#333" stroke-width="0.9" />
<line x1="437.52" y1="115.25" x2="437.52" y2="122.25" stroke="#333" stroke-width="0.9" />
<line x1="435.42" y1="115.25" x2="439.62" y2="115.25" stroke="#333" stroke-width="0.9" />
<line x1="435.42" y1="122.25" x2="439.62" y2="122.25" stroke="#333" stroke-width="0.9" />
<line x1="452.89" y1="115.95" x2="452.89" y2="122.95" stroke="#333" stroke-width="0.9" />
<line x1="450.79" y1="115.95" x2="454.99" y2="115.95" stroke="#333" stroke-width="0.9" />
<line x1="450.79" y1="122.95" x2="454.99" y2="122.95" stroke="#333" stroke-width="0.9" />
<line x1="468.26" y1="133.8" x2="468.26" y2="147.8" stroke="#333" stroke-width="0.9" />
<line x1="466.16" y1="133.8" x2="470.36" y2="133.8" stroke="#333" stroke-width="0.9" />
<line x1="466.16" y1="147.8" x2="470.36" y2="147.8" stroke="#333" stroke-width="0.9" />
<line x1="483.63" y1="134.5" x2="483.63" y2="159" stroke="#333" stroke-width="0.9" />
<line x1="481.53" y1="134.5" x2="485.73" y2="134.5" stroke="#333" stroke-width="0.9" />
<line x1="481.53" y1="159" x2="485.73" y2="159" stroke="#333" stroke-width="0.9" />
<line x1="499" y1="135.55" x2="499" y2="160.05" stroke="#333" stroke-width="0.9" />
<line x1="496.9" y1="135.55" x2="501.1" y2="135.55" stroke="#333" stroke-width="0.9" />
<line x1="496.9" y1="160.05" x2="501.1" y2="160.05" stroke="#333" stroke-width="0.9" />
<line x1="514.37" y1="127.85" x2="514.37" y2="173.35" stroke="#333" stroke-width="0.9" />
<line x1="512.27" y1="127.85" x2="516.47" y2="127.85" stroke="#333" stroke-width="0.9" />
<line x1="512.27" y1="173.35" x2="516.47" y2="173.35" stroke="#333" stroke-width="0.9" />
<line x1="529.74" y1="138.35" x2="529.74" y2="166.35" stroke="#333" stroke-width="0.9" />
<line x1="527.64" y1="138.35" x2="531.84" y2="138.35" stroke="#333" stroke-width="0.9" />
<line x1="527.64" y1="166.35" x2="531.84" y2="166.35" stroke="#333" stroke-width="0.9" />
<line x1="545.11" y1="136.25" x2="545.11" y2="157.25" stroke="#333" stroke-width="0.9" />
<line x1="543.01" y1="136.25" x2="547.21" y2="136.25" stroke="#333" stroke-width="0.9" />
<line x1="543.01" y1="157.25" x2="547.21" y2="157.25" stroke="#333" stroke-width="0.9" />
<line x1="560.48" y1="157.25" x2="560.48" y2="164.25" stroke="#333" stroke-width="0.9" />
<line x1="558.38" y1="157.25" x2="562.58" y2="157.25" stroke="#333" stroke-width="0.9" />
<line x1="558.38" y1="164.25" x2="562.58" y2="164.25" stroke="#333" stroke-width="0.9" />
<line x1="345.3" y1="154.1" x2="345.3" y2="164.6" stroke="#333" stroke-width="0.9" />
<line x1="343.2" y1="154.1" x2="347.4" y2="154.1" stroke="#333" stroke-width="0.9" />
<line x1="343.2" y1="164.6" x2="347.4" y2="164.6" stroke="#333" stroke-width="0.9" />
<line x1="360.67" y1="143.95" x2="360.67" y2="157.95" stroke="#333" stroke-width="0.9" />
<line x1="358.57" y1="143.95" x2="362.77" y2="143.95" stroke="#333" stroke-width="0.9" />
<line x1="358.57" y1="157.95" x2="362.77" y2="157.95" stroke="#333" stroke-width="0.9" />
<line x1="376.04" y1="138.35" x2="376.04" y2="148.85" stroke="#333" stroke-width="0.9" />
<line x1="373.94" y1="138.35" x2="378.14" y2="138.35" stroke="#333" stroke-width="0.9" />
<line x1="373.94" y1="148.85" x2="378.14" y2="148.85" stroke="#333" stroke-width="0.9" />
<line x1="391.41" y1="117" x2="391.41" y2="131" stroke="#333" stroke-width="0.9" />
<line x1="389.31" y1="117" x2="393.51" y2="117" stroke="#333" stroke-width="0.9" />
<line x1="389.31" y1="131" x2="393.51" y2="131" stroke="#333" stroke-width="0.9" />
<line x1="406.78" y1="99.85" x2="406.78" y2="113.85" stroke="#333" stroke-width="0.9" />
<line x1="404.68" y1="99.85" x2="408.88" y2="99.85" stroke="#333" stroke-width="0.9" />
<line x1="404.68" y1="113.85" x2="408.88" y2="113.85" stroke="#333" stroke-width="0.9" />
<line x1="422.15" y1="89" x2="422.15" y2="110" stroke="#333" stroke-width="0.9" />
<line x1="420.05" y1="89" x2="424.25" y2="89" stroke="#333" stroke-width="0.9" />
<line x1="420.05" y1="110" x2="424.25" y2="110" stroke="#333" stroke-width="0.9" />
<line x1="437.52" y1="85.15" x2="437.52" y2="106.15" stroke="#333" stroke-width="0.9" />
<line x1="435.42" y1="85.15" x2="439.62" y2="85.15" stroke="#333" stroke-width="0.9" />
<line x1="435.42" y1="106.15" x2="439.62" y2="106.15" stroke="#333" stroke-width="0.9" />
<line x1="452.89" y1="92.5" x2="452.89" y2="106.5" stroke="#333" stroke-width="0.9" />
<line x1="450.79" y1="92.5" x2="454.99" y2="92.5" stroke="#333" stroke-width="0.9" />
<line x1="450.79" y1="106.5" x2="454.99" y2="106.5" stroke="#333" stroke-width="0.9" />
<line x1="468.26" y1="102.3" x2="468.26" y2="109.3" stroke="#333" stroke-width="0.9" />
<line x1="466.16" y1="102.3" x2="470.36" y2="102.3" stroke="#333" stroke-width="0.9" />
<line x1="466.16" y1="109.3" x2="470.36" y2="109.3" stroke="#333" stroke-width="0.9" />
<line x1="483.63" y1="104.05" x2="483.63" y2="121.55" stroke="#333" stroke-width="0.9" />
<line x1="481.53" y1="104.05" x2="485.73" y2="104.05" stroke="#333" stroke-width="0.9" />
<line x1="481.53" y1="121.55" x2="485.73" y2="121.55" stroke="#333" stroke-width="0.9" />
<line x1="499" y1="123.65" x2="499" y2="144.65" stroke="#333" stroke-width="0.9" />
<line x1="496.9" y1="123.65" x2="501.1" y2="123.65" stroke="#333" stroke-width="0.9" />
<line x1="496.9" y1="144.65" x2="501.1" y2="144.65" stroke="#333" stroke-width="0.9" />
<line x1="514.37" y1="137.3" x2="514.37" y2="158.3" stroke="#333" stroke-width="0.9" />
<line x1="512.27" y1="137.3" x2="516.47" y2="137.3" stroke="#333" stroke-width="0.9" />
<line x1="512.27" y1="158.3" x2="516.47" y2="158.3" stroke="#333" stroke-width="0.9" />
<line x1="529.74" y1="139.4" x2="529.74" y2="160.4" stroke="#333" stroke-width="0.9" />
<line x1="527.64" y1="139.4" x2="531.84" y2="139.4" stroke="#333" stroke-width="0.9" />
<line x1="527.64" y1="160.4" x2="531.84" y2="160.4" stroke="#333" stroke-width="0.9" />
<line x1="545.11" y1="144.3" x2="545.11" y2="151.3" stroke="#333" stroke-width="0.9" />
<line x1="543.01" y1="144.3" x2="547.21" y2="144.3" stroke="#333" stroke-width="0.9" />
<line x1="543.01" y1="151.3" x2="547.21" y2="151.3" stroke="#333" stroke-width="0.9" />
<line x1="560.48" y1="150.95" x2="560.48" y2="157.95" stroke="#333" stroke-width="0.9" />
<line x1="558.38" y1="150.95" x2="562.58" y2="150.95" stroke="#333" stroke-width="0.9" />
<line x1="558.38" y1="157.95" x2="562.58" y2="157.95" stroke="#333" stroke-width="0.9" />
<rect x="342.45" y="156" width="5.7" height="6.7" fill="#fff" stroke="#606060" stroke-width="1"/>
<rect x="357.82" y="153.2" width="5.7" height="6.7" fill="#fff" stroke="#606060" stroke-width="1"/>
<rect x="373.19" y="159.15" width="5.7" height="6.7" fill="#fff" stroke="#606060" stroke-width="1"/>
<rect x="388.56" y="157.75" width="5.7" height="6.7" fill="#fff" stroke="#606060" stroke-width="1"/>
<rect x="403.93" y="147.6" width="5.7" height="6.7" fill="#fff" stroke="#606060" stroke-width="1"/>
<rect x="419.3" y="146.55" width="5.7" height="6.7" fill="#fff" stroke="#606060" stroke-width="1"/>
<rect x="434.67" y="146.2" width="5.7" height="6.7" fill="#fff" stroke="#606060" stroke-width="1"/>
<rect x="450.04" y="147.25" width="5.7" height="6.7" fill="#fff" stroke="#606060" stroke-width="1"/>
<rect x="465.41" y="150.05" width="5.7" height="6.7" fill="#fff" stroke="#606060" stroke-width="1"/>
<rect x="480.78" y="140.25" width="5.7" height="6.7" fill="#fff" stroke="#606060" stroke-width="1"/>
<rect x="496.15" y="142.35" width="5.7" height="6.7" fill="#fff" stroke="#606060" stroke-width="1"/>
<rect x="511.52" y="143.4" width="5.7" height="6.7" fill="#fff" stroke="#606060" stroke-width="1"/>
<rect x="526.89" y="144.45" width="5.7" height="6.7" fill="#fff" stroke="#606060" stroke-width="1"/>
<rect x="542.26" y="142.35" width="5.7" height="6.7" fill="#fff" stroke="#606060" stroke-width="1"/>
<rect x="557.63" y="145.5" width="5.7" height="6.7" fill="#fff" stroke="#606060" stroke-width="1"/>
<rect x="342.45" y="156.7" width="5.7" height="6.7" fill="#111" stroke="#111" stroke-width="0.8"/>
<rect x="357.82" y="154.25" width="5.7" height="6.7" fill="#111" stroke="#111" stroke-width="0.8"/>
<rect x="373.19" y="140.25" width="5.7" height="6.7" fill="#111" stroke="#111" stroke-width="0.8"/>
<rect x="388.56" y="110.5" width="5.7" height="6.7" fill="#111" stroke="#111" stroke-width="0.8"/>
<rect x="403.93" y="94.4" width="5.7" height="6.7" fill="#111" stroke="#111" stroke-width="0.8"/>
<rect x="419.3" y="89.5" width="5.7" height="6.7" fill="#111" stroke="#111" stroke-width="0.8"/>
<rect x="434.67" y="86" width="5.7" height="6.7" fill="#111" stroke="#111" stroke-width="0.8"/>
<rect x="450.04" y="84.25" width="5.7" height="6.7" fill="#111" stroke="#111" stroke-width="0.8"/>
<rect x="465.41" y="97.9" width="5.7" height="6.7" fill="#111" stroke="#111" stroke-width="0.8"/>
<rect x="480.78" y="106.65" width="5.7" height="6.7" fill="#111" stroke="#111" stroke-width="0.8"/>
<rect x="496.15" y="132.55" width="5.7" height="6.7" fill="#111" stroke="#111" stroke-width="0.8"/>
<rect x="511.52" y="135.7" width="5.7" height="6.7" fill="#111" stroke="#111" stroke-width="0.8"/>
<rect x="526.89" y="132.55" width="5.7" height="6.7" fill="#111" stroke="#111" stroke-width="0.8"/>
<rect x="542.26" y="130.1" width="5.7" height="6.7" fill="#111" stroke="#111" stroke-width="0.8"/>
<rect x="557.63" y="138.5" width="5.7" height="6.7" fill="#111" stroke="#111" stroke-width="0.8"/>
<ellipse cx="345.3" cy="159.35" rx="2.85" ry="3.35" fill="#111" stroke="#111" stroke-width="0.8"/>
<ellipse cx="360.67" cy="157.6" rx="2.85" ry="3.35" fill="#111" stroke="#111" stroke-width="0.8"/>
<ellipse cx="376.04" cy="153.4" rx="2.85" ry="3.35" fill="#111" stroke="#111" stroke-width="0.8"/>
<ellipse cx="391.41" cy="136.95" rx="2.85" ry="3.35" fill="#111" stroke="#111" stroke-width="0.8"/>
<ellipse cx="406.78" cy="126.1" rx="2.85" ry="3.35" fill="#111" stroke="#111" stroke-width="0.8"/>
<ellipse cx="422.15" cy="123.65" rx="2.85" ry="3.35" fill="#111" stroke="#111" stroke-width="0.8"/>
<ellipse cx="437.52" cy="118.75" rx="2.85" ry="3.35" fill="#111" stroke="#111" stroke-width="0.8"/>
<ellipse cx="452.89" cy="119.45" rx="2.85" ry="3.35" fill="#111" stroke="#111" stroke-width="0.8"/>
<ellipse cx="468.26" cy="140.8" rx="2.85" ry="3.35" fill="#111" stroke="#111" stroke-width="0.8"/>
<ellipse cx="483.63" cy="146.75" rx="2.85" ry="3.35" fill="#111" stroke="#111" stroke-width="0.8"/>
<ellipse cx="499" cy="147.8" rx="2.85" ry="3.35" fill="#111" stroke="#111" stroke-width="0.8"/>
<ellipse cx="514.37" cy="150.6" rx="2.85" ry="3.35" fill="#111" stroke="#111" stroke-width="0.8"/>
<ellipse cx="529.74" cy="152.35" rx="2.85" ry="3.35" fill="#111" stroke="#111" stroke-width="0.8"/>
<ellipse cx="545.11" cy="146.75" rx="2.85" ry="3.35" fill="#111" stroke="#111" stroke-width="0.8"/>
<ellipse cx="560.48" cy="160.75" rx="2.85" ry="3.35" fill="#111" stroke="#111" stroke-width="0.8"/>
<ellipse cx="345.3" cy="159.35" rx="2.85" ry="3.35" fill="#fff" stroke="#111" stroke-width="1"/>
<ellipse cx="360.67" cy="150.95" rx="2.85" ry="3.35" fill="#fff" stroke="#111" stroke-width="1"/>
<ellipse cx="376.04" cy="143.6" rx="2.85" ry="3.35" fill="#fff" stroke="#111" stroke-width="1"/>
<ellipse cx="391.41" cy="124" rx="2.85" ry="3.35" fill="#fff" stroke="#111" stroke-width="1"/>
<ellipse cx="406.78" cy="106.85" rx="2.85" ry="3.35" fill="#fff" stroke="#111" stroke-width="1"/>
<ellipse cx="422.15" cy="99.5" rx="2.85" ry="3.35" fill="#fff" stroke="#111" stroke-width="1"/>
<ellipse cx="437.52" cy="95.65" rx="2.85" ry="3.35" fill="#fff" stroke="#111" stroke-width="1"/>
<ellipse cx="452.89" cy="99.5" rx="2.85" ry="3.35" fill="#fff" stroke="#111" stroke-width="1"/>
<ellipse cx="468.26" cy="105.8" rx="2.85" ry="3.35" fill="#fff" stroke="#111" stroke-width="1"/>
<ellipse cx="483.63" cy="112.8" rx="2.85" ry="3.35" fill="#fff" stroke="#111" stroke-width="1"/>
<ellipse cx="499" cy="134.15" rx="2.85" ry="3.35" fill="#fff" stroke="#111" stroke-width="1"/>
<ellipse cx="514.37" cy="147.8" rx="2.85" ry="3.35" fill="#fff" stroke="#111" stroke-width="1"/>
<ellipse cx="529.74" cy="149.9" rx="2.85" ry="3.35" fill="#fff" stroke="#111" stroke-width="1"/>
<ellipse cx="545.11" cy="147.8" rx="2.85" ry="3.35" fill="#fff" stroke="#111" stroke-width="1"/>
<ellipse cx="560.48" cy="154.45" rx="2.85" ry="3.35" fill="#fff" stroke="#111" stroke-width="1"/>
<text x="453.1" y="77.3" font-size="7.8" text-anchor="middle" font-weight="bold" fill="#1a1a1a" >***</text>
<text x="453.1" y="81" font-size="5.2" text-anchor="middle" font-weight="normal" fill="#888" >‡‡</text>
<text x="457" y="100" font-size="5.2" text-anchor="start" font-weight="normal" fill="#888" >‡‡</text>
<text x="450.6" y="113" text-anchor="start"><tspan fill="#444" font-weight="normal" font-size="5.6">††</tspan><tspan fill="#111" font-weight="bold" font-size="6.2">§</tspan><tspan fill="#999" font-weight="normal" font-size="5.2">‡‡</tspan></text>
<text x="566.5" y="141.8" font-size="5.8" font-weight="bold" font-style="italic" fill="#555">###</text>
<text x="566.5" y="151.8" font-size="5.8" font-weight="bold" font-style="italic" fill="#555">###</text>
<text x="566.5" y="161.8" font-size="5.6" font-weight="bold" fill="#444"><tspan font-size="6.2">††</tspan><tspan dx="0.4" font-style="italic" fill="#555">###</tspan></text>
<text x="0.5" y="266" font-size="14.5" text-anchor="start" font-weight="bold" fill="#1a1a1a" stroke="#1a1a1a" stroke-width="0.28">c</text>
<line x1="52.3" y1="271.9" x2="52.3" y2="396.5" stroke="#1c1c1c" stroke-width="1.8" />
<line x1="49.3" y1="395.6" x2="55.3" y2="395.6" stroke="#1c1c1c" stroke-width="1.3" />
<text x="45.7" y="398.15" font-size="9.3" text-anchor="end" font-weight="bold" fill="#1a1a1a" stroke="#1a1a1a" stroke-width="0.28">90</text>
<line x1="49.3" y1="370.86" x2="55.3" y2="370.86" stroke="#1c1c1c" stroke-width="1.3" />
<text x="45.7" y="373.41" font-size="9.3" text-anchor="end" font-weight="bold" fill="#1a1a1a" stroke="#1a1a1a" stroke-width="0.28">100</text>
<line x1="49.3" y1="346.12" x2="55.3" y2="346.12" stroke="#1c1c1c" stroke-width="1.3" />
<text x="45.7" y="348.67" font-size="9.3" text-anchor="end" font-weight="bold" fill="#1a1a1a" stroke="#1a1a1a" stroke-width="0.28">110</text>
<line x1="49.3" y1="321.38" x2="55.3" y2="321.38" stroke="#1c1c1c" stroke-width="1.3" />
<text x="45.7" y="323.93" font-size="9.3" text-anchor="end" font-weight="bold" fill="#1a1a1a" stroke="#1a1a1a" stroke-width="0.28">120</text>
<line x1="49.3" y1="296.64" x2="55.3" y2="296.64" stroke="#1c1c1c" stroke-width="1.3" />
<text x="45.7" y="299.19" font-size="9.3" text-anchor="end" font-weight="bold" fill="#1a1a1a" stroke="#1a1a1a" stroke-width="0.28">130</text>
<line x1="49.3" y1="271.9" x2="55.3" y2="271.9" stroke="#1c1c1c" stroke-width="1.3" />
<text x="45.7" y="274.45" font-size="9.3" text-anchor="end" font-weight="bold" fill="#1a1a1a" stroke="#1a1a1a" stroke-width="0.28">140</text>
<line x1="51.5" y1="395.8" x2="260.3" y2="395.8" stroke="#1c1c1c" stroke-width="1.8" />
<line x1="66" y1="393.4" x2="66" y2="397.4" stroke="#1c1c1c" stroke-width="1.3" />
<line x1="79.88" y1="393.4" x2="79.88" y2="397.4" stroke="#1c1c1c" stroke-width="1.3" />
<line x1="93.76" y1="393.4" x2="93.76" y2="397.4" stroke="#1c1c1c" stroke-width="1.3" />
<line x1="107.64" y1="393.4" x2="107.64" y2="397.4" stroke="#1c1c1c" stroke-width="1.3" />
<line x1="121.52" y1="393.4" x2="121.52" y2="397.4" stroke="#1c1c1c" stroke-width="1.3" />
<line x1="135.4" y1="393.4" x2="135.4" y2="397.4" stroke="#1c1c1c" stroke-width="1.3" />
<line x1="149.28" y1="393.4" x2="149.28" y2="397.4" stroke="#1c1c1c" stroke-width="1.3" />
<line x1="163.16" y1="393.4" x2="163.16" y2="397.4" stroke="#1c1c1c" stroke-width="1.3" />
<line x1="177.04" y1="393.4" x2="177.04" y2="397.4" stroke="#1c1c1c" stroke-width="1.3" />
<line x1="190.92" y1="393.4" x2="190.92" y2="397.4" stroke="#1c1c1c" stroke-width="1.3" />
<line x1="204.8" y1="393.4" x2="204.8" y2="397.4" stroke="#1c1c1c" stroke-width="1.3" />
<line x1="218.68" y1="393.4" x2="218.68" y2="397.4" stroke="#1c1c1c" stroke-width="1.3" />
<line x1="232.56" y1="393.4" x2="232.56" y2="397.4" stroke="#1c1c1c" stroke-width="1.3" />
<line x1="246.44" y1="393.4" x2="246.44" y2="397.4" stroke="#1c1c1c" stroke-width="1.3" />
<line x1="260.32" y1="393.4" x2="260.32" y2="397.4" stroke="#1c1c1c" stroke-width="1.3" />
<text transform="translate(14.4,333.1) rotate(-90)" x="0" y="3.46" font-size="9.6" text-anchor="middle" font-weight="bold" fill="#1a1a1a" stroke="#1a1a1a" stroke-width="0.28">SBP (mmHg)</text>
<text x="59" y="409.6" font-size="9.3" text-anchor="middle" font-weight="bold" fill="#1a1a1a" stroke="#1a1a1a" stroke-width="0.28">0</text>
<text x="72.88" y="409.6" font-size="9.3" text-anchor="middle" font-weight="bold" fill="#1a1a1a" stroke="#1a1a1a" stroke-width="0.28">1</text>
<text x="86.76" y="409.6" font-size="9.3" text-anchor="middle" font-weight="bold" fill="#1a1a1a" stroke="#1a1a1a" stroke-width="0.28">2</text>
<text x="100.64" y="409.6" font-size="9.3" text-anchor="middle" font-weight="bold" fill="#1a1a1a" stroke="#1a1a1a" stroke-width="0.28">3</text>
<text x="114.52" y="409.6" font-size="9.3" text-anchor="middle" font-weight="bold" fill="#1a1a1a" stroke="#1a1a1a" stroke-width="0.28">4</text>
<text x="128.4" y="409.6" font-size="9.3" text-anchor="middle" font-weight="bold" fill="#1a1a1a" stroke="#1a1a1a" stroke-width="0.28">5</text>
<text x="142.28" y="409.6" font-size="9.3" text-anchor="middle" font-weight="bold" fill="#1a1a1a" stroke="#1a1a1a" stroke-width="0.28">6</text>
<text x="156.16" y="409.6" font-size="9.3" text-anchor="middle" font-weight="bold" fill="#1a1a1a" stroke="#1a1a1a" stroke-width="0.28">7</text>
<text x="170.04" y="409.6" font-size="9.3" text-anchor="middle" font-weight="bold" fill="#1a1a1a" stroke="#1a1a1a" stroke-width="0.28">8</text>
<text x="183.92" y="409.6" font-size="9.3" text-anchor="middle" font-weight="bold" fill="#1a1a1a" stroke="#1a1a1a" stroke-width="0.28">9</text>
<text x="197.8" y="409.6" font-size="9.3" text-anchor="middle" font-weight="bold" fill="#1a1a1a" stroke="#1a1a1a" stroke-width="0.28">10</text>
<text x="211.68" y="409.6" font-size="9.3" text-anchor="middle" font-weight="bold" fill="#1a1a1a" stroke="#1a1a1a" stroke-width="0.28">11</text>
<text x="225.56" y="409.6" font-size="9.3" text-anchor="middle" font-weight="bold" fill="#1a1a1a" stroke="#1a1a1a" stroke-width="0.28">12</text>
<text x="239.44" y="409.6" font-size="9.3" text-anchor="middle" font-weight="bold" fill="#1a1a1a" stroke="#1a1a1a" stroke-width="0.28">13</text>
<text x="253.32" y="409.6" font-size="9.3" text-anchor="middle" font-weight="bold" fill="#1a1a1a" stroke="#1a1a1a" stroke-width="0.28">14</text>
<text x="263.2" y="409.6" font-size="9" text-anchor="start" font-weight="bold" fill="#1a1a1a" stroke="#1a1a1a" stroke-width="0.28">day</text>
<line x1="69.9" y1="413" x2="160.1" y2="413" stroke="#707070" stroke-width="1.6" />
<line x1="166.4" y1="413" x2="255.2" y2="413" stroke="#707070" stroke-width="1.6" />
<text x="115" y="425.5" font-size="9" text-anchor="middle" font-weight="bold" fill="#1a1a1a" stroke="#1a1a1a" stroke-width="0.28">HS</text>
<text x="210.4" y="425.5" font-size="9" text-anchor="middle" font-weight="bold" fill="#1a1a1a" stroke="#1a1a1a" stroke-width="0.28">NS</text>
<polyline points="59,356.51 72.88,355.77 86.76,357.01 100.64,358 114.52,352.31 128.4,351.32 142.28,345.13 156.16,347.11 170.04,350.08 183.92,344.64 197.8,348.35 211.68,346.86 225.56,345.38 239.44,348.1 253.32,350.57" fill="none" stroke="#888" stroke-width="0.9"/>
<polyline points="59,355.27 72.88,355.27 86.76,343.89 100.64,328.8 114.52,315.69 128.4,312.23 142.28,304.8 156.16,305.79 170.04,312.72 183.92,334.99 197.8,340.68 211.68,343.4 225.56,346.12 239.44,350.57 253.32,351.56" fill="none" stroke="#444" stroke-width="0.9"/>
<polyline points="59,352.8 72.88,351.32 86.76,346.12 100.64,320.89 114.52,309.01 128.4,298.62 142.28,294.91 156.16,293.92 170.04,310.49 183.92,313.96 197.8,341.17 211.68,338.2 225.56,335.98 239.44,341.67 253.32,345.38" fill="none" stroke="#444" stroke-width="0.9"/>
<polyline points="59,356.51 72.88,352.8 86.76,350.57 100.64,339.94 114.52,332.51 128.4,331.03 142.28,329.3 156.16,326.82 170.04,338.7 183.92,343.89 197.8,347.36 211.68,348.35 225.56,351.56 239.44,354.53 253.32,357.75" fill="none" stroke="#444" stroke-width="0.9"/>
<line x1="59" y1="352.8" x2="59" y2="360.22" stroke="#555" stroke-width="0.9" />
<line x1="57.2" y1="352.8" x2="60.8" y2="352.8" stroke="#555" stroke-width="0.9" />
<line x1="57.2" y1="360.22" x2="60.8" y2="360.22" stroke="#555" stroke-width="0.9" />
<line x1="72.88" y1="348.35" x2="72.88" y2="363.19" stroke="#555" stroke-width="0.9" />
<line x1="71.08" y1="348.35" x2="74.68" y2="348.35" stroke="#555" stroke-width="0.9" />
<line x1="71.08" y1="363.19" x2="74.68" y2="363.19" stroke="#555" stroke-width="0.9" />
<line x1="86.76" y1="352.06" x2="86.76" y2="361.95" stroke="#555" stroke-width="0.9" />
<line x1="84.96" y1="352.06" x2="88.56" y2="352.06" stroke="#555" stroke-width="0.9" />
<line x1="84.96" y1="361.95" x2="88.56" y2="361.95" stroke="#555" stroke-width="0.9" />
<line x1="100.64" y1="354.28" x2="100.64" y2="361.71" stroke="#555" stroke-width="0.9" />
<line x1="98.84" y1="354.28" x2="102.44" y2="354.28" stroke="#555" stroke-width="0.9" />
<line x1="98.84" y1="361.71" x2="102.44" y2="361.71" stroke="#555" stroke-width="0.9" />
<line x1="114.52" y1="343.65" x2="114.52" y2="360.96" stroke="#555" stroke-width="0.9" />
<line x1="112.72" y1="343.65" x2="116.32" y2="343.65" stroke="#555" stroke-width="0.9" />
<line x1="112.72" y1="360.96" x2="116.32" y2="360.96" stroke="#555" stroke-width="0.9" />
<line x1="128.4" y1="346.37" x2="128.4" y2="356.26" stroke="#555" stroke-width="0.9" />
<line x1="126.6" y1="346.37" x2="130.2" y2="346.37" stroke="#555" stroke-width="0.9" />
<line x1="126.6" y1="356.26" x2="130.2" y2="356.26" stroke="#555" stroke-width="0.9" />
<line x1="142.28" y1="340.18" x2="142.28" y2="350.08" stroke="#555" stroke-width="0.9" />
<line x1="140.48" y1="340.18" x2="144.08" y2="340.18" stroke="#555" stroke-width="0.9" />
<line x1="140.48" y1="350.08" x2="144.08" y2="350.08" stroke="#555" stroke-width="0.9" />
<line x1="156.16" y1="343.4" x2="156.16" y2="350.82" stroke="#555" stroke-width="0.9" />
<line x1="154.36" y1="343.4" x2="157.96" y2="343.4" stroke="#555" stroke-width="0.9" />
<line x1="154.36" y1="350.82" x2="157.96" y2="350.82" stroke="#555" stroke-width="0.9" />
<line x1="170.04" y1="342.66" x2="170.04" y2="357.5" stroke="#555" stroke-width="0.9" />
<line x1="168.24" y1="342.66" x2="171.84" y2="342.66" stroke="#555" stroke-width="0.9" />
<line x1="168.24" y1="357.5" x2="171.84" y2="357.5" stroke="#555" stroke-width="0.9" />
<line x1="183.92" y1="332.27" x2="183.92" y2="357.01" stroke="#555" stroke-width="0.9" />
<line x1="182.12" y1="332.27" x2="185.72" y2="332.27" stroke="#555" stroke-width="0.9" />
<line x1="182.12" y1="357.01" x2="185.72" y2="357.01" stroke="#555" stroke-width="0.9" />
<line x1="197.8" y1="343.4" x2="197.8" y2="353.29" stroke="#555" stroke-width="0.9" />
<line x1="196" y1="343.4" x2="199.6" y2="343.4" stroke="#555" stroke-width="0.9" />
<line x1="196" y1="353.29" x2="199.6" y2="353.29" stroke="#555" stroke-width="0.9" />
<line x1="211.68" y1="339.44" x2="211.68" y2="354.28" stroke="#555" stroke-width="0.9" />
<line x1="209.88" y1="339.44" x2="213.48" y2="339.44" stroke="#555" stroke-width="0.9" />
<line x1="209.88" y1="354.28" x2="213.48" y2="354.28" stroke="#555" stroke-width="0.9" />
<line x1="225.56" y1="335.48" x2="225.56" y2="355.27" stroke="#555" stroke-width="0.9" />
<line x1="223.76" y1="335.48" x2="227.36" y2="335.48" stroke="#555" stroke-width="0.9" />
<line x1="223.76" y1="355.27" x2="227.36" y2="355.27" stroke="#555" stroke-width="0.9" />
<line x1="239.44" y1="344.39" x2="239.44" y2="351.81" stroke="#555" stroke-width="0.9" />
<line x1="237.64" y1="344.39" x2="241.24" y2="344.39" stroke="#555" stroke-width="0.9" />
<line x1="237.64" y1="351.81" x2="241.24" y2="351.81" stroke="#555" stroke-width="0.9" />
<line x1="253.32" y1="346.86" x2="253.32" y2="354.28" stroke="#555" stroke-width="0.9" />
<line x1="251.52" y1="346.86" x2="255.12" y2="346.86" stroke="#555" stroke-width="0.9" />
<line x1="251.52" y1="354.28" x2="255.12" y2="354.28" stroke="#555" stroke-width="0.9" />
<line x1="59" y1="351.56" x2="59" y2="358.98" stroke="#555" stroke-width="0.9" />
<line x1="57.2" y1="351.56" x2="60.8" y2="351.56" stroke="#555" stroke-width="0.9" />
<line x1="57.2" y1="358.98" x2="60.8" y2="358.98" stroke="#555" stroke-width="0.9" />
<line x1="72.88" y1="347.85" x2="72.88" y2="362.7" stroke="#555" stroke-width="0.9" />
<line x1="71.08" y1="347.85" x2="74.68" y2="347.85" stroke="#555" stroke-width="0.9" />
<line x1="71.08" y1="362.7" x2="74.68" y2="362.7" stroke="#555" stroke-width="0.9" />
<line x1="86.76" y1="334" x2="86.76" y2="353.79" stroke="#555" stroke-width="0.9" />
<line x1="84.96" y1="334" x2="88.56" y2="334" stroke="#555" stroke-width="0.9" />
<line x1="84.96" y1="353.79" x2="88.56" y2="353.79" stroke="#555" stroke-width="0.9" />
<line x1="100.64" y1="318.91" x2="100.64" y2="338.7" stroke="#555" stroke-width="0.9" />
<line x1="98.84" y1="318.91" x2="102.44" y2="318.91" stroke="#555" stroke-width="0.9" />
<line x1="98.84" y1="338.7" x2="102.44" y2="338.7" stroke="#555" stroke-width="0.9" />
<line x1="114.52" y1="303.32" x2="114.52" y2="328.06" stroke="#555" stroke-width="0.9" />
<line x1="112.72" y1="303.32" x2="116.32" y2="303.32" stroke="#555" stroke-width="0.9" />
<line x1="112.72" y1="328.06" x2="116.32" y2="328.06" stroke="#555" stroke-width="0.9" />
<line x1="128.4" y1="297.38" x2="128.4" y2="327.07" stroke="#555" stroke-width="0.9" />
<line x1="126.6" y1="297.38" x2="130.2" y2="297.38" stroke="#555" stroke-width="0.9" />
<line x1="126.6" y1="327.07" x2="130.2" y2="327.07" stroke="#555" stroke-width="0.9" />
<line x1="142.28" y1="297.38" x2="142.28" y2="312.23" stroke="#555" stroke-width="0.9" />
<line x1="140.48" y1="297.38" x2="144.08" y2="297.38" stroke="#555" stroke-width="0.9" />
<line x1="140.48" y1="312.23" x2="144.08" y2="312.23" stroke="#555" stroke-width="0.9" />
<line x1="156.16" y1="302.08" x2="156.16" y2="309.5" stroke="#555" stroke-width="0.9" />
<line x1="154.36" y1="302.08" x2="157.96" y2="302.08" stroke="#555" stroke-width="0.9" />
<line x1="154.36" y1="309.5" x2="157.96" y2="309.5" stroke="#555" stroke-width="0.9" />
<line x1="170.04" y1="305.3" x2="170.04" y2="320.14" stroke="#555" stroke-width="0.9" />
<line x1="168.24" y1="305.3" x2="171.84" y2="305.3" stroke="#555" stroke-width="0.9" />
<line x1="168.24" y1="320.14" x2="171.84" y2="320.14" stroke="#555" stroke-width="0.9" />
<line x1="183.92" y1="327.56" x2="183.92" y2="342.41" stroke="#555" stroke-width="0.9" />
<line x1="182.12" y1="327.56" x2="185.72" y2="327.56" stroke="#555" stroke-width="0.9" />
<line x1="182.12" y1="342.41" x2="185.72" y2="342.41" stroke="#555" stroke-width="0.9" />
<line x1="197.8" y1="335.73" x2="197.8" y2="345.63" stroke="#555" stroke-width="0.9" />
<line x1="196" y1="335.73" x2="199.6" y2="335.73" stroke="#555" stroke-width="0.9" />
<line x1="196" y1="345.63" x2="199.6" y2="345.63" stroke="#555" stroke-width="0.9" />
<line x1="211.68" y1="335.98" x2="211.68" y2="350.82" stroke="#555" stroke-width="0.9" />
<line x1="209.88" y1="335.98" x2="213.48" y2="335.98" stroke="#555" stroke-width="0.9" />
<line x1="209.88" y1="350.82" x2="213.48" y2="350.82" stroke="#555" stroke-width="0.9" />
<line x1="225.56" y1="341.17" x2="225.56" y2="351.07" stroke="#555" stroke-width="0.9" />
<line x1="223.76" y1="341.17" x2="227.36" y2="341.17" stroke="#555" stroke-width="0.9" />
<line x1="223.76" y1="351.07" x2="227.36" y2="351.07" stroke="#555" stroke-width="0.9" />
<line x1="239.44" y1="346.86" x2="239.44" y2="354.28" stroke="#555" stroke-width="0.9" />
<line x1="237.64" y1="346.86" x2="241.24" y2="346.86" stroke="#555" stroke-width="0.9" />
<line x1="237.64" y1="354.28" x2="241.24" y2="354.28" stroke="#555" stroke-width="0.9" />
<line x1="253.32" y1="347.85" x2="253.32" y2="355.27" stroke="#555" stroke-width="0.9" />
<line x1="251.52" y1="347.85" x2="255.12" y2="347.85" stroke="#555" stroke-width="0.9" />
<line x1="251.52" y1="355.27" x2="255.12" y2="355.27" stroke="#555" stroke-width="0.9" />
<line x1="59" y1="349.09" x2="59" y2="356.51" stroke="#555" stroke-width="0.9" />
<line x1="57.2" y1="349.09" x2="60.8" y2="349.09" stroke="#555" stroke-width="0.9" />
<line x1="57.2" y1="356.51" x2="60.8" y2="356.51" stroke="#555" stroke-width="0.9" />
<line x1="72.88" y1="343.89" x2="72.88" y2="358.74" stroke="#555" stroke-width="0.9" />
<line x1="71.08" y1="343.89" x2="74.68" y2="343.89" stroke="#555" stroke-width="0.9" />
<line x1="71.08" y1="358.74" x2="74.68" y2="358.74" stroke="#555" stroke-width="0.9" />
<line x1="86.76" y1="336.22" x2="86.76" y2="356.02" stroke="#555" stroke-width="0.9" />
<line x1="84.96" y1="336.22" x2="88.56" y2="336.22" stroke="#555" stroke-width="0.9" />
<line x1="84.96" y1="356.02" x2="88.56" y2="356.02" stroke="#555" stroke-width="0.9" />
<line x1="100.64" y1="312.23" x2="100.64" y2="329.54" stroke="#555" stroke-width="0.9" />
<line x1="98.84" y1="312.23" x2="102.44" y2="312.23" stroke="#555" stroke-width="0.9" />
<line x1="98.84" y1="329.54" x2="102.44" y2="329.54" stroke="#555" stroke-width="0.9" />
<line x1="114.52" y1="301.59" x2="114.52" y2="316.43" stroke="#555" stroke-width="0.9" />
<line x1="112.72" y1="301.59" x2="116.32" y2="301.59" stroke="#555" stroke-width="0.9" />
<line x1="112.72" y1="316.43" x2="116.32" y2="316.43" stroke="#555" stroke-width="0.9" />
<line x1="128.4" y1="285.01" x2="128.4" y2="312.23" stroke="#555" stroke-width="0.9" />
<line x1="126.6" y1="285.01" x2="130.2" y2="285.01" stroke="#555" stroke-width="0.9" />
<line x1="126.6" y1="312.23" x2="130.2" y2="312.23" stroke="#555" stroke-width="0.9" />
<line x1="142.28" y1="287.49" x2="142.28" y2="302.33" stroke="#555" stroke-width="0.9" />
<line x1="140.48" y1="287.49" x2="144.08" y2="287.49" stroke="#555" stroke-width="0.9" />
<line x1="140.48" y1="302.33" x2="144.08" y2="302.33" stroke="#555" stroke-width="0.9" />
<line x1="156.16" y1="290.21" x2="156.16" y2="297.63" stroke="#555" stroke-width="0.9" />
<line x1="154.36" y1="290.21" x2="157.96" y2="290.21" stroke="#555" stroke-width="0.9" />
<line x1="154.36" y1="297.63" x2="157.96" y2="297.63" stroke="#555" stroke-width="0.9" />
<line x1="170.04" y1="300.6" x2="170.04" y2="320.39" stroke="#555" stroke-width="0.9" />
<line x1="168.24" y1="300.6" x2="171.84" y2="300.6" stroke="#555" stroke-width="0.9" />
<line x1="168.24" y1="320.39" x2="171.84" y2="320.39" stroke="#555" stroke-width="0.9" />
<line x1="183.92" y1="300.35" x2="183.92" y2="327.56" stroke="#555" stroke-width="0.9" />
<line x1="182.12" y1="300.35" x2="185.72" y2="300.35" stroke="#555" stroke-width="0.9" />
<line x1="182.12" y1="327.56" x2="185.72" y2="327.56" stroke="#555" stroke-width="0.9" />
<line x1="197.8" y1="333.75" x2="197.8" y2="348.59" stroke="#555" stroke-width="0.9" />
<line x1="196" y1="333.75" x2="199.6" y2="333.75" stroke="#555" stroke-width="0.9" />
<line x1="196" y1="348.59" x2="199.6" y2="348.59" stroke="#555" stroke-width="0.9" />
<line x1="211.68" y1="328.31" x2="211.68" y2="348.1" stroke="#555" stroke-width="0.9" />
<line x1="209.88" y1="328.31" x2="213.48" y2="328.31" stroke="#555" stroke-width="0.9" />
<line x1="209.88" y1="348.1" x2="213.48" y2="348.1" stroke="#555" stroke-width="0.9" />
<line x1="225.56" y1="328.55" x2="225.56" y2="343.4" stroke="#555" stroke-width="0.9" />
<line x1="223.76" y1="328.55" x2="227.36" y2="328.55" stroke="#555" stroke-width="0.9" />
<line x1="223.76" y1="343.4" x2="227.36" y2="343.4" stroke="#555" stroke-width="0.9" />
<line x1="239.44" y1="337.96" x2="239.44" y2="345.38" stroke="#555" stroke-width="0.9" />
<line x1="237.64" y1="337.96" x2="241.24" y2="337.96" stroke="#555" stroke-width="0.9" />
<line x1="237.64" y1="345.38" x2="241.24" y2="345.38" stroke="#555" stroke-width="0.9" />
<line x1="253.32" y1="341.67" x2="253.32" y2="349.09" stroke="#555" stroke-width="0.9" />
<line x1="251.52" y1="341.67" x2="255.12" y2="341.67" stroke="#555" stroke-width="0.9" />
<line x1="251.52" y1="349.09" x2="255.12" y2="349.09" stroke="#555" stroke-width="0.9" />
<line x1="59" y1="352.8" x2="59" y2="360.22" stroke="#555" stroke-width="0.9" />
<line x1="57.2" y1="352.8" x2="60.8" y2="352.8" stroke="#555" stroke-width="0.9" />
<line x1="57.2" y1="360.22" x2="60.8" y2="360.22" stroke="#555" stroke-width="0.9" />
<line x1="72.88" y1="345.38" x2="72.88" y2="360.22" stroke="#555" stroke-width="0.9" />
<line x1="71.08" y1="345.38" x2="74.68" y2="345.38" stroke="#555" stroke-width="0.9" />
<line x1="71.08" y1="360.22" x2="74.68" y2="360.22" stroke="#555" stroke-width="0.9" />
<line x1="86.76" y1="345.63" x2="86.76" y2="355.52" stroke="#555" stroke-width="0.9" />
<line x1="84.96" y1="345.63" x2="88.56" y2="345.63" stroke="#555" stroke-width="0.9" />
<line x1="84.96" y1="355.52" x2="88.56" y2="355.52" stroke="#555" stroke-width="0.9" />
<line x1="100.64" y1="327.56" x2="100.64" y2="352.31" stroke="#555" stroke-width="0.9" />
<line x1="98.84" y1="327.56" x2="102.44" y2="327.56" stroke="#555" stroke-width="0.9" />
<line x1="98.84" y1="352.31" x2="102.44" y2="352.31" stroke="#555" stroke-width="0.9" />
<line x1="114.52" y1="317.67" x2="114.52" y2="347.36" stroke="#555" stroke-width="0.9" />
<line x1="112.72" y1="317.67" x2="116.32" y2="317.67" stroke="#555" stroke-width="0.9" />
<line x1="112.72" y1="347.36" x2="116.32" y2="347.36" stroke="#555" stroke-width="0.9" />
<line x1="128.4" y1="316.18" x2="128.4" y2="345.87" stroke="#555" stroke-width="0.9" />
<line x1="126.6" y1="316.18" x2="130.2" y2="316.18" stroke="#555" stroke-width="0.9" />
<line x1="126.6" y1="345.87" x2="130.2" y2="345.87" stroke="#555" stroke-width="0.9" />
<line x1="142.28" y1="320.64" x2="142.28" y2="337.96" stroke="#555" stroke-width="0.9" />
<line x1="140.48" y1="320.64" x2="144.08" y2="320.64" stroke="#555" stroke-width="0.9" />
<line x1="140.48" y1="337.96" x2="144.08" y2="337.96" stroke="#555" stroke-width="0.9" />
<line x1="156.16" y1="323.11" x2="156.16" y2="330.53" stroke="#555" stroke-width="0.9" />
<line x1="154.36" y1="323.11" x2="157.96" y2="323.11" stroke="#555" stroke-width="0.9" />
<line x1="154.36" y1="330.53" x2="157.96" y2="330.53" stroke="#555" stroke-width="0.9" />
<line x1="170.04" y1="331.28" x2="170.04" y2="346.12" stroke="#555" stroke-width="0.9" />
<line x1="168.24" y1="331.28" x2="171.84" y2="331.28" stroke="#555" stroke-width="0.9" />
<line x1="168.24" y1="346.12" x2="171.84" y2="346.12" stroke="#555" stroke-width="0.9" />
<line x1="183.92" y1="331.52" x2="183.92" y2="356.26" stroke="#555" stroke-width="0.9" />
<line x1="182.12" y1="331.52" x2="185.72" y2="331.52" stroke="#555" stroke-width="0.9" />
<line x1="182.12" y1="356.26" x2="185.72" y2="356.26" stroke="#555" stroke-width="0.9" />
<line x1="197.8" y1="342.41" x2="197.8" y2="352.31" stroke="#555" stroke-width="0.9" />
<line x1="196" y1="342.41" x2="199.6" y2="342.41" stroke="#555" stroke-width="0.9" />
<line x1="196" y1="352.31" x2="199.6" y2="352.31" stroke="#555" stroke-width="0.9" />
<line x1="211.68" y1="335.98" x2="211.68" y2="360.72" stroke="#555" stroke-width="0.9" />
<line x1="209.88" y1="335.98" x2="213.48" y2="335.98" stroke="#555" stroke-width="0.9" />
<line x1="209.88" y1="360.72" x2="213.48" y2="360.72" stroke="#555" stroke-width="0.9" />
<line x1="225.56" y1="336.72" x2="225.56" y2="366.41" stroke="#555" stroke-width="0.9" />
<line x1="223.76" y1="336.72" x2="227.36" y2="336.72" stroke="#555" stroke-width="0.9" />
<line x1="223.76" y1="366.41" x2="227.36" y2="366.41" stroke="#555" stroke-width="0.9" />
<line x1="239.44" y1="350.82" x2="239.44" y2="358.24" stroke="#555" stroke-width="0.9" />
<line x1="237.64" y1="350.82" x2="241.24" y2="350.82" stroke="#555" stroke-width="0.9" />
<line x1="237.64" y1="358.24" x2="241.24" y2="358.24" stroke="#555" stroke-width="0.9" />
<line x1="253.32" y1="354.04" x2="253.32" y2="361.46" stroke="#555" stroke-width="0.9" />
<line x1="251.52" y1="354.04" x2="255.12" y2="354.04" stroke="#555" stroke-width="0.9" />
<line x1="251.52" y1="361.46" x2="255.12" y2="361.46" stroke="#555" stroke-width="0.9" />
<rect x="56.85" y="354.56" width="4.3" height="3.9" fill="#fff" stroke="#606060" stroke-width="1"/>
<rect x="70.73" y="353.82" width="4.3" height="3.9" fill="#fff" stroke="#606060" stroke-width="1"/>
<rect x="84.61" y="355.06" width="4.3" height="3.9" fill="#fff" stroke="#606060" stroke-width="1"/>
<rect x="98.49" y="356.05" width="4.3" height="3.9" fill="#fff" stroke="#606060" stroke-width="1"/>
<rect x="112.37" y="350.36" width="4.3" height="3.9" fill="#fff" stroke="#606060" stroke-width="1"/>
<rect x="126.25" y="349.37" width="4.3" height="3.9" fill="#fff" stroke="#606060" stroke-width="1"/>
<rect x="140.13" y="343.18" width="4.3" height="3.9" fill="#fff" stroke="#606060" stroke-width="1"/>
<rect x="154.01" y="345.16" width="4.3" height="3.9" fill="#fff" stroke="#606060" stroke-width="1"/>
<rect x="167.89" y="348.13" width="4.3" height="3.9" fill="#fff" stroke="#606060" stroke-width="1"/>
<rect x="181.77" y="342.69" width="4.3" height="3.9" fill="#fff" stroke="#606060" stroke-width="1"/>
<rect x="195.65" y="346.4" width="4.3" height="3.9" fill="#fff" stroke="#606060" stroke-width="1"/>
<rect x="209.53" y="344.91" width="4.3" height="3.9" fill="#fff" stroke="#606060" stroke-width="1"/>
<rect x="223.41" y="343.43" width="4.3" height="3.9" fill="#fff" stroke="#606060" stroke-width="1"/>
<rect x="237.29" y="346.15" width="4.3" height="3.9" fill="#fff" stroke="#606060" stroke-width="1"/>
<rect x="251.17" y="348.62" width="4.3" height="3.9" fill="#fff" stroke="#606060" stroke-width="1"/>
<ellipse cx="59" cy="355.27" rx="2.15" ry="1.95" fill="#fff" stroke="#111" stroke-width="1"/>
<ellipse cx="72.88" cy="355.27" rx="2.15" ry="1.95" fill="#fff" stroke="#111" stroke-width="1"/>
<ellipse cx="86.76" cy="343.89" rx="2.15" ry="1.95" fill="#fff" stroke="#111" stroke-width="1"/>
<ellipse cx="100.64" cy="328.8" rx="2.15" ry="1.95" fill="#fff" stroke="#111" stroke-width="1"/>
<ellipse cx="114.52" cy="315.69" rx="2.15" ry="1.95" fill="#fff" stroke="#111" stroke-width="1"/>
<ellipse cx="128.4" cy="312.23" rx="2.15" ry="1.95" fill="#fff" stroke="#111" stroke-width="1"/>
<ellipse cx="142.28" cy="304.8" rx="2.15" ry="1.95" fill="#fff" stroke="#111" stroke-width="1"/>
<ellipse cx="156.16" cy="305.79" rx="2.15" ry="1.95" fill="#fff" stroke="#111" stroke-width="1"/>
<ellipse cx="170.04" cy="312.72" rx="2.15" ry="1.95" fill="#fff" stroke="#111" stroke-width="1"/>
<ellipse cx="183.92" cy="334.99" rx="2.15" ry="1.95" fill="#fff" stroke="#111" stroke-width="1"/>
<ellipse cx="197.8" cy="340.68" rx="2.15" ry="1.95" fill="#fff" stroke="#111" stroke-width="1"/>
<ellipse cx="211.68" cy="343.4" rx="2.15" ry="1.95" fill="#fff" stroke="#111" stroke-width="1"/>
<ellipse cx="225.56" cy="346.12" rx="2.15" ry="1.95" fill="#fff" stroke="#111" stroke-width="1"/>
<ellipse cx="239.44" cy="350.57" rx="2.15" ry="1.95" fill="#fff" stroke="#111" stroke-width="1"/>
<ellipse cx="253.32" cy="351.56" rx="2.15" ry="1.95" fill="#fff" stroke="#111" stroke-width="1"/>
<rect x="56.85" y="350.85" width="4.3" height="3.9" fill="#111" stroke="#111" stroke-width="0.8"/>
<rect x="70.73" y="349.37" width="4.3" height="3.9" fill="#111" stroke="#111" stroke-width="0.8"/>
<rect x="84.61" y="344.17" width="4.3" height="3.9" fill="#111" stroke="#111" stroke-width="0.8"/>
<rect x="98.49" y="318.94" width="4.3" height="3.9" fill="#111" stroke="#111" stroke-width="0.8"/>
<rect x="112.37" y="307.06" width="4.3" height="3.9" fill="#111" stroke="#111" stroke-width="0.8"/>
<rect x="126.25" y="296.67" width="4.3" height="3.9" fill="#111" stroke="#111" stroke-width="0.8"/>
<rect x="140.13" y="292.96" width="4.3" height="3.9" fill="#111" stroke="#111" stroke-width="0.8"/>
<rect x="154.01" y="291.97" width="4.3" height="3.9" fill="#111" stroke="#111" stroke-width="0.8"/>
<rect x="167.89" y="308.54" width="4.3" height="3.9" fill="#111" stroke="#111" stroke-width="0.8"/>
<rect x="181.77" y="312.01" width="4.3" height="3.9" fill="#111" stroke="#111" stroke-width="0.8"/>
<rect x="195.65" y="339.22" width="4.3" height="3.9" fill="#111" stroke="#111" stroke-width="0.8"/>
<rect x="209.53" y="336.25" width="4.3" height="3.9" fill="#111" stroke="#111" stroke-width="0.8"/>
<rect x="223.41" y="334.03" width="4.3" height="3.9" fill="#111" stroke="#111" stroke-width="0.8"/>
<rect x="237.29" y="339.72" width="4.3" height="3.9" fill="#111" stroke="#111" stroke-width="0.8"/>
<rect x="251.17" y="343.43" width="4.3" height="3.9" fill="#111" stroke="#111" stroke-width="0.8"/>
<ellipse cx="59" cy="356.51" rx="2.15" ry="1.95" fill="#111" stroke="#111" stroke-width="0.8"/>
<ellipse cx="72.88" cy="352.8" rx="2.15" ry="1.95" fill="#111" stroke="#111" stroke-width="0.8"/>
<ellipse cx="86.76" cy="350.57" rx="2.15" ry="1.95" fill="#111" stroke="#111" stroke-width="0.8"/>
<ellipse cx="100.64" cy="339.94" rx="2.15" ry="1.95" fill="#111" stroke="#111" stroke-width="0.8"/>
<ellipse cx="114.52" cy="332.51" rx="2.15" ry="1.95" fill="#111" stroke="#111" stroke-width="0.8"/>
<ellipse cx="128.4" cy="331.03" rx="2.15" ry="1.95" fill="#111" stroke="#111" stroke-width="0.8"/>
<ellipse cx="142.28" cy="329.3" rx="2.15" ry="1.95" fill="#111" stroke="#111" stroke-width="0.8"/>
<ellipse cx="156.16" cy="326.82" rx="2.15" ry="1.95" fill="#111" stroke="#111" stroke-width="0.8"/>
<ellipse cx="170.04" cy="338.7" rx="2.15" ry="1.95" fill="#111" stroke="#111" stroke-width="0.8"/>
<ellipse cx="183.92" cy="343.89" rx="2.15" ry="1.95" fill="#111" stroke="#111" stroke-width="0.8"/>
<ellipse cx="197.8" cy="347.36" rx="2.15" ry="1.95" fill="#111" stroke="#111" stroke-width="0.8"/>
<ellipse cx="211.68" cy="348.35" rx="2.15" ry="1.95" fill="#111" stroke="#111" stroke-width="0.8"/>
<ellipse cx="225.56" cy="351.56" rx="2.15" ry="1.95" fill="#111" stroke="#111" stroke-width="0.8"/>
<ellipse cx="239.44" cy="354.53" rx="2.15" ry="1.95" fill="#111" stroke="#111" stroke-width="0.8"/>
<ellipse cx="253.32" cy="357.75" rx="2.15" ry="1.95" fill="#111" stroke="#111" stroke-width="0.8"/>
<text x="156.2" y="281.6" font-size="8.5" text-anchor="middle" font-weight="bold" fill="#1a1a1a" stroke="#1a1a1a" stroke-width="0.28">***</text>
<text x="156" y="287" font-size="5.2" text-anchor="middle" font-weight="normal" fill="#888" >‡‡</text>
<text x="159.3" y="304.6" font-size="5.2" text-anchor="start" font-weight="normal" fill="#999" >‡‡</text>
<text x="146.2" y="320.5" text-anchor="start"><tspan fill="#999" font-weight="normal" font-size="5.2">‡‡</tspan><tspan fill="#fff" font-weight="normal" font-size="5"> </tspan><tspan fill="#444" font-weight="normal" font-size="5.6">††</tspan><tspan fill="#111" font-weight="bold" font-size="6.2">§</tspan></text>
<text x="259.2" y="347.5" font-size="5.8" font-weight="bold" font-style="italic" fill="#555">###</text>
<text x="259.2" y="354.2" font-size="5.8" font-weight="bold" font-style="italic" fill="#555">###</text>
<text x="259.2" y="360.3" font-size="5.6" font-weight="bold" fill="#444"><tspan font-size="6.2">††</tspan><tspan dx="0.4" font-style="italic" fill="#555">###</tspan></text>
<text x="294.5" y="266.4" font-size="14.5" text-anchor="start" font-weight="bold" fill="#1a1a1a" stroke="#1a1a1a" stroke-width="0.28">d</text>
<line x1="340.5" y1="275.4" x2="340.5" y2="396" stroke="#1c1c1c" stroke-width="1.8" />
<line x1="337.5" y1="394.8" x2="343.5" y2="394.8" stroke="#1c1c1c" stroke-width="1.3" />
<text x="332.8" y="397.35" font-size="9.3" text-anchor="end" font-weight="bold" fill="#1a1a1a" stroke="#1a1a1a" stroke-width="0.28">70</text>
<line x1="337.5" y1="364.95" x2="343.5" y2="364.95" stroke="#1c1c1c" stroke-width="1.3" />
<text x="332.8" y="367.5" font-size="9.3" text-anchor="end" font-weight="bold" fill="#1a1a1a" stroke="#1a1a1a" stroke-width="0.28">80</text>
<line x1="337.5" y1="335.1" x2="343.5" y2="335.1" stroke="#1c1c1c" stroke-width="1.3" />
<text x="332.8" y="337.65" font-size="9.3" text-anchor="end" font-weight="bold" fill="#1a1a1a" stroke="#1a1a1a" stroke-width="0.28">90</text>
<line x1="337.5" y1="305.25" x2="343.5" y2="305.25" stroke="#1c1c1c" stroke-width="1.3" />
<text x="332.8" y="307.8" font-size="9.3" text-anchor="end" font-weight="bold" fill="#1a1a1a" stroke="#1a1a1a" stroke-width="0.28">100</text>
<line x1="337.5" y1="275.4" x2="343.5" y2="275.4" stroke="#1c1c1c" stroke-width="1.3" />
<text x="332.8" y="277.95" font-size="9.3" text-anchor="end" font-weight="bold" fill="#1a1a1a" stroke="#1a1a1a" stroke-width="0.28">110</text>
<line x1="338.5" y1="395" x2="541.5" y2="395" stroke="#1c1c1c" stroke-width="1.8" />
<line x1="353.9" y1="392.8" x2="353.9" y2="397.3" stroke="#1c1c1c" stroke-width="1.3" />
<line x1="367.33" y1="392.8" x2="367.33" y2="397.3" stroke="#1c1c1c" stroke-width="1.3" />
<line x1="380.76" y1="392.8" x2="380.76" y2="397.3" stroke="#1c1c1c" stroke-width="1.3" />
<line x1="394.19" y1="392.8" x2="394.19" y2="397.3" stroke="#1c1c1c" stroke-width="1.3" />
<line x1="407.62" y1="392.8" x2="407.62" y2="397.3" stroke="#1c1c1c" stroke-width="1.3" />
<line x1="421.05" y1="392.8" x2="421.05" y2="397.3" stroke="#1c1c1c" stroke-width="1.3" />
<line x1="434.48" y1="392.8" x2="434.48" y2="397.3" stroke="#1c1c1c" stroke-width="1.3" />
<line x1="447.91" y1="392.8" x2="447.91" y2="397.3" stroke="#1c1c1c" stroke-width="1.3" />
<line x1="461.34" y1="392.8" x2="461.34" y2="397.3" stroke="#1c1c1c" stroke-width="1.3" />
<line x1="474.77" y1="392.8" x2="474.77" y2="397.3" stroke="#1c1c1c" stroke-width="1.3" />
<line x1="488.2" y1="392.8" x2="488.2" y2="397.3" stroke="#1c1c1c" stroke-width="1.3" />
<line x1="501.63" y1="392.8" x2="501.63" y2="397.3" stroke="#1c1c1c" stroke-width="1.3" />
<line x1="515.06" y1="392.8" x2="515.06" y2="397.3" stroke="#1c1c1c" stroke-width="1.3" />
<line x1="528.49" y1="392.8" x2="528.49" y2="397.3" stroke="#1c1c1c" stroke-width="1.3" />
<line x1="541.92" y1="392.8" x2="541.92" y2="397.3" stroke="#1c1c1c" stroke-width="1.3" />
<text transform="translate(303.5,335.5) rotate(-90)" x="0" y="3.46" font-size="9.6" text-anchor="middle" font-weight="bold" fill="#1a1a1a" stroke="#1a1a1a" stroke-width="0.28">DBP (mmHg)</text>
<text x="346.9" y="409.4" font-size="9.3" text-anchor="middle" font-weight="bold" fill="#1a1a1a" stroke="#1a1a1a" stroke-width="0.28">0</text>
<text x="360.33" y="409.4" font-size="9.3" text-anchor="middle" font-weight="bold" fill="#1a1a1a" stroke="#1a1a1a" stroke-width="0.28">1</text>
<text x="373.76" y="409.4" font-size="9.3" text-anchor="middle" font-weight="bold" fill="#1a1a1a" stroke="#1a1a1a" stroke-width="0.28">2</text>
<text x="387.19" y="409.4" font-size="9.3" text-anchor="middle" font-weight="bold" fill="#1a1a1a" stroke="#1a1a1a" stroke-width="0.28">3</text>
<text x="400.62" y="409.4" font-size="9.3" text-anchor="middle" font-weight="bold" fill="#1a1a1a" stroke="#1a1a1a" stroke-width="0.28">4</text>
<text x="414.05" y="409.4" font-size="9.3" text-anchor="middle" font-weight="bold" fill="#1a1a1a" stroke="#1a1a1a" stroke-width="0.28">5</text>
<text x="427.48" y="409.4" font-size="9.3" text-anchor="middle" font-weight="bold" fill="#1a1a1a" stroke="#1a1a1a" stroke-width="0.28">6</text>
<text x="440.91" y="409.4" font-size="9.3" text-anchor="middle" font-weight="bold" fill="#1a1a1a" stroke="#1a1a1a" stroke-width="0.28">7</text>
<text x="454.34" y="409.4" font-size="9.3" text-anchor="middle" font-weight="bold" fill="#1a1a1a" stroke="#1a1a1a" stroke-width="0.28">8</text>
<text x="467.77" y="409.4" font-size="9.3" text-anchor="middle" font-weight="bold" fill="#1a1a1a" stroke="#1a1a1a" stroke-width="0.28">9</text>
<text x="481.2" y="409.4" font-size="9.3" text-anchor="middle" font-weight="bold" fill="#1a1a1a" stroke="#1a1a1a" stroke-width="0.28">10</text>
<text x="494.63" y="409.4" font-size="9.3" text-anchor="middle" font-weight="bold" fill="#1a1a1a" stroke="#1a1a1a" stroke-width="0.28">11</text>
<text x="508.06" y="409.4" font-size="9.3" text-anchor="middle" font-weight="bold" fill="#1a1a1a" stroke="#1a1a1a" stroke-width="0.28">12</text>
<text x="521.49" y="409.4" font-size="9.3" text-anchor="middle" font-weight="bold" fill="#1a1a1a" stroke="#1a1a1a" stroke-width="0.28">13</text>
<text x="534.92" y="409.4" font-size="9.3" text-anchor="middle" font-weight="bold" fill="#1a1a1a" stroke="#1a1a1a" stroke-width="0.28">14</text>
<text x="544.8" y="409.4" font-size="9" text-anchor="start" font-weight="bold" fill="#1a1a1a" stroke="#1a1a1a" stroke-width="0.28">day</text>
<line x1="357.8" y1="413" x2="447.1" y2="413" stroke="#707070" stroke-width="1.6" />
<line x1="453.3" y1="413" x2="542.5" y2="413" stroke="#707070" stroke-width="1.6" />
<text x="402.4" y="425.5" font-size="9" text-anchor="middle" font-weight="bold" fill="#1a1a1a" stroke="#1a1a1a" stroke-width="0.28">HS</text>
<text x="497.9" y="425.5" font-size="9" text-anchor="middle" font-weight="bold" fill="#1a1a1a" stroke="#1a1a1a" stroke-width="0.28">NS</text>
<polyline points="346.9,365.85 360.33,360.47 373.76,356.59 387.19,364.95 400.62,358.68 414.05,358.68 427.48,353.61 440.91,353.61 454.34,361.37 467.77,349.43 481.2,346.44 494.63,344.35 508.06,350.62 521.49,344.35 534.92,353.61" fill="none" stroke="#808080" stroke-width="0.9"/>
<polyline points="346.9,356.29 360.33,359.58 373.76,352.11 387.19,338.38 400.62,325.25 414.05,322.86 427.48,318.98 440.91,320.18 454.34,336.89 467.77,351.52 481.2,346.44 494.63,370.02 508.06,375.1 521.49,382.26 534.92,374.5" fill="none" stroke="#1a1a1a" stroke-width="0.9"/>
<polyline points="346.9,363.76 360.33,361.37 373.76,356.59 387.19,330.62 400.62,318.98 414.05,308.53 427.48,312.12 440.91,308.83 454.34,334.8 467.77,337.49 481.2,343.76 494.63,355.1 508.06,350.62 521.49,356 534.92,362.86" fill="none" stroke="#1a1a1a" stroke-width="0.95"/>
<polyline points="346.9,364.05 360.33,361.37 373.76,356.59 387.19,347.94 400.62,339.88 414.05,338.68 427.48,337.49 440.91,338.68 454.34,357.19 467.77,358.68 481.2,364.95 494.63,368.23 508.06,375.7 521.49,383.16 534.92,380.47" fill="none" stroke="#1a1a1a" stroke-width="0.9"/>
<line x1="346.9" y1="361.37" x2="346.9" y2="370.32" stroke="#333" stroke-width="0.9" />
<line x1="345" y1="361.37" x2="348.8" y2="361.37" stroke="#333" stroke-width="0.9" />
<line x1="345" y1="370.32" x2="348.8" y2="370.32" stroke="#333" stroke-width="0.9" />
<line x1="360.33" y1="354.5" x2="360.33" y2="366.44" stroke="#333" stroke-width="0.9" />
<line x1="358.43" y1="354.5" x2="362.23" y2="354.5" stroke="#333" stroke-width="0.9" />
<line x1="358.43" y1="366.44" x2="362.23" y2="366.44" stroke="#333" stroke-width="0.9" />
<line x1="373.76" y1="350.62" x2="373.76" y2="362.56" stroke="#333" stroke-width="0.9" />
<line x1="371.86" y1="350.62" x2="375.66" y2="350.62" stroke="#333" stroke-width="0.9" />
<line x1="371.86" y1="362.56" x2="375.66" y2="362.56" stroke="#333" stroke-width="0.9" />
<line x1="387.19" y1="358.98" x2="387.19" y2="370.92" stroke="#333" stroke-width="0.9" />
<line x1="385.29" y1="358.98" x2="389.09" y2="358.98" stroke="#333" stroke-width="0.9" />
<line x1="385.29" y1="370.92" x2="389.09" y2="370.92" stroke="#333" stroke-width="0.9" />
<line x1="400.62" y1="351.22" x2="400.62" y2="366.14" stroke="#333" stroke-width="0.9" />
<line x1="398.72" y1="351.22" x2="402.52" y2="351.22" stroke="#333" stroke-width="0.9" />
<line x1="398.72" y1="366.14" x2="402.52" y2="366.14" stroke="#333" stroke-width="0.9" />
<line x1="414.05" y1="351.22" x2="414.05" y2="366.14" stroke="#333" stroke-width="0.9" />
<line x1="412.15" y1="351.22" x2="415.95" y2="351.22" stroke="#333" stroke-width="0.9" />
<line x1="412.15" y1="366.14" x2="415.95" y2="366.14" stroke="#333" stroke-width="0.9" />
<line x1="427.48" y1="347.64" x2="427.48" y2="359.58" stroke="#333" stroke-width="0.9" />
<line x1="425.58" y1="347.64" x2="429.38" y2="347.64" stroke="#333" stroke-width="0.9" />
<line x1="425.58" y1="359.58" x2="429.38" y2="359.58" stroke="#333" stroke-width="0.9" />
<line x1="440.91" y1="347.64" x2="440.91" y2="359.58" stroke="#333" stroke-width="0.9" />
<line x1="439.01" y1="347.64" x2="442.81" y2="347.64" stroke="#333" stroke-width="0.9" />
<line x1="439.01" y1="359.58" x2="442.81" y2="359.58" stroke="#333" stroke-width="0.9" />
<line x1="454.34" y1="352.41" x2="454.34" y2="370.32" stroke="#333" stroke-width="0.9" />
<line x1="452.44" y1="352.41" x2="456.24" y2="352.41" stroke="#333" stroke-width="0.9" />
<line x1="452.44" y1="370.32" x2="456.24" y2="370.32" stroke="#333" stroke-width="0.9" />
<line x1="467.77" y1="343.46" x2="467.77" y2="355.4" stroke="#333" stroke-width="0.9" />
<line x1="465.87" y1="343.46" x2="469.67" y2="343.46" stroke="#333" stroke-width="0.9" />
<line x1="465.87" y1="355.4" x2="469.67" y2="355.4" stroke="#333" stroke-width="0.9" />
<line x1="481.2" y1="340.47" x2="481.2" y2="352.41" stroke="#333" stroke-width="0.9" />
<line x1="479.3" y1="340.47" x2="483.1" y2="340.47" stroke="#333" stroke-width="0.9" />
<line x1="479.3" y1="352.41" x2="483.1" y2="352.41" stroke="#333" stroke-width="0.9" />
<line x1="494.63" y1="338.38" x2="494.63" y2="350.32" stroke="#333" stroke-width="0.9" />
<line x1="492.73" y1="338.38" x2="496.53" y2="338.38" stroke="#333" stroke-width="0.9" />
<line x1="492.73" y1="350.32" x2="496.53" y2="350.32" stroke="#333" stroke-width="0.9" />
<line x1="508.06" y1="344.65" x2="508.06" y2="356.59" stroke="#333" stroke-width="0.9" />
<line x1="506.16" y1="344.65" x2="509.96" y2="344.65" stroke="#333" stroke-width="0.9" />
<line x1="506.16" y1="356.59" x2="509.96" y2="356.59" stroke="#333" stroke-width="0.9" />
<line x1="521.49" y1="338.38" x2="521.49" y2="350.32" stroke="#333" stroke-width="0.9" />
<line x1="519.59" y1="338.38" x2="523.39" y2="338.38" stroke="#333" stroke-width="0.9" />
<line x1="519.59" y1="350.32" x2="523.39" y2="350.32" stroke="#333" stroke-width="0.9" />
<line x1="534.92" y1="347.64" x2="534.92" y2="359.58" stroke="#333" stroke-width="0.9" />
<line x1="533.02" y1="347.64" x2="536.82" y2="347.64" stroke="#333" stroke-width="0.9" />
<line x1="533.02" y1="359.58" x2="536.82" y2="359.58" stroke="#333" stroke-width="0.9" />
<line x1="346.9" y1="351.82" x2="346.9" y2="360.77" stroke="#333" stroke-width="0.9" />
<line x1="345" y1="351.82" x2="348.8" y2="351.82" stroke="#333" stroke-width="0.9" />
<line x1="345" y1="360.77" x2="348.8" y2="360.77" stroke="#333" stroke-width="0.9" />
<line x1="360.33" y1="355.1" x2="360.33" y2="364.05" stroke="#333" stroke-width="0.9" />
<line x1="358.43" y1="355.1" x2="362.23" y2="355.1" stroke="#333" stroke-width="0.9" />
<line x1="358.43" y1="364.05" x2="362.23" y2="364.05" stroke="#333" stroke-width="0.9" />
<line x1="373.76" y1="344.65" x2="373.76" y2="359.58" stroke="#333" stroke-width="0.9" />
<line x1="371.86" y1="344.65" x2="375.66" y2="344.65" stroke="#333" stroke-width="0.9" />
<line x1="371.86" y1="359.58" x2="375.66" y2="359.58" stroke="#333" stroke-width="0.9" />
<line x1="387.19" y1="326.44" x2="387.19" y2="350.32" stroke="#333" stroke-width="0.9" />
<line x1="385.29" y1="326.44" x2="389.09" y2="326.44" stroke="#333" stroke-width="0.9" />
<line x1="385.29" y1="350.32" x2="389.09" y2="350.32" stroke="#333" stroke-width="0.9" />
<line x1="400.62" y1="319.28" x2="400.62" y2="331.22" stroke="#333" stroke-width="0.9" />
<line x1="398.72" y1="319.28" x2="402.52" y2="319.28" stroke="#333" stroke-width="0.9" />
<line x1="398.72" y1="331.22" x2="402.52" y2="331.22" stroke="#333" stroke-width="0.9" />
<line x1="414.05" y1="313.91" x2="414.05" y2="331.82" stroke="#333" stroke-width="0.9" />
<line x1="412.15" y1="313.91" x2="415.95" y2="313.91" stroke="#333" stroke-width="0.9" />
<line x1="412.15" y1="331.82" x2="415.95" y2="331.82" stroke="#333" stroke-width="0.9" />
<line x1="427.48" y1="313.01" x2="427.48" y2="324.95" stroke="#333" stroke-width="0.9" />
<line x1="425.58" y1="313.01" x2="429.38" y2="313.01" stroke="#333" stroke-width="0.9" />
<line x1="425.58" y1="324.95" x2="429.38" y2="324.95" stroke="#333" stroke-width="0.9" />
<line x1="440.91" y1="314.21" x2="440.91" y2="326.14" stroke="#333" stroke-width="0.9" />
<line x1="439.01" y1="314.21" x2="442.81" y2="314.21" stroke="#333" stroke-width="0.9" />
<line x1="439.01" y1="326.14" x2="442.81" y2="326.14" stroke="#333" stroke-width="0.9" />
<line x1="454.34" y1="330.92" x2="454.34" y2="342.86" stroke="#333" stroke-width="0.9" />
<line x1="452.44" y1="330.92" x2="456.24" y2="330.92" stroke="#333" stroke-width="0.9" />
<line x1="452.44" y1="342.86" x2="456.24" y2="342.86" stroke="#333" stroke-width="0.9" />
<line x1="467.77" y1="344.06" x2="467.77" y2="358.98" stroke="#333" stroke-width="0.9" />
<line x1="465.87" y1="344.06" x2="469.67" y2="344.06" stroke="#333" stroke-width="0.9" />
<line x1="465.87" y1="358.98" x2="469.67" y2="358.98" stroke="#333" stroke-width="0.9" />
<line x1="481.2" y1="340.47" x2="481.2" y2="352.41" stroke="#333" stroke-width="0.9" />
<line x1="479.3" y1="340.47" x2="483.1" y2="340.47" stroke="#333" stroke-width="0.9" />
<line x1="479.3" y1="352.41" x2="483.1" y2="352.41" stroke="#333" stroke-width="0.9" />
<line x1="494.63" y1="359.58" x2="494.63" y2="380.47" stroke="#333" stroke-width="0.9" />
<line x1="492.73" y1="359.58" x2="496.53" y2="359.58" stroke="#333" stroke-width="0.9" />
<line x1="492.73" y1="380.47" x2="496.53" y2="380.47" stroke="#333" stroke-width="0.9" />
<line x1="508.06" y1="369.13" x2="508.06" y2="381.07" stroke="#333" stroke-width="0.9" />
<line x1="506.16" y1="369.13" x2="509.96" y2="369.13" stroke="#333" stroke-width="0.9" />
<line x1="506.16" y1="381.07" x2="509.96" y2="381.07" stroke="#333" stroke-width="0.9" />
<line x1="521.49" y1="376.29" x2="521.49" y2="388.23" stroke="#333" stroke-width="0.9" />
<line x1="519.59" y1="376.29" x2="523.39" y2="376.29" stroke="#333" stroke-width="0.9" />
<line x1="519.59" y1="388.23" x2="523.39" y2="388.23" stroke="#333" stroke-width="0.9" />
<line x1="534.92" y1="368.53" x2="534.92" y2="380.47" stroke="#333" stroke-width="0.9" />
<line x1="533.02" y1="368.53" x2="536.82" y2="368.53" stroke="#333" stroke-width="0.9" />
<line x1="533.02" y1="380.47" x2="536.82" y2="380.47" stroke="#333" stroke-width="0.9" />
<line x1="346.9" y1="359.28" x2="346.9" y2="368.23" stroke="#333" stroke-width="0.9" />
<line x1="345" y1="359.28" x2="348.8" y2="359.28" stroke="#333" stroke-width="0.9" />
<line x1="345" y1="368.23" x2="348.8" y2="368.23" stroke="#333" stroke-width="0.9" />
<line x1="360.33" y1="355.4" x2="360.33" y2="367.34" stroke="#333" stroke-width="0.9" />
<line x1="358.43" y1="355.4" x2="362.23" y2="355.4" stroke="#333" stroke-width="0.9" />
<line x1="358.43" y1="367.34" x2="362.23" y2="367.34" stroke="#333" stroke-width="0.9" />
<line x1="373.76" y1="350.62" x2="373.76" y2="362.56" stroke="#333" stroke-width="0.9" />
<line x1="371.86" y1="350.62" x2="375.66" y2="350.62" stroke="#333" stroke-width="0.9" />
<line x1="371.86" y1="362.56" x2="375.66" y2="362.56" stroke="#333" stroke-width="0.9" />
<line x1="387.19" y1="318.68" x2="387.19" y2="342.56" stroke="#333" stroke-width="0.9" />
<line x1="385.29" y1="318.68" x2="389.09" y2="318.68" stroke="#333" stroke-width="0.9" />
<line x1="385.29" y1="342.56" x2="389.09" y2="342.56" stroke="#333" stroke-width="0.9" />
<line x1="400.62" y1="310.03" x2="400.62" y2="327.94" stroke="#333" stroke-width="0.9" />
<line x1="398.72" y1="310.03" x2="402.52" y2="310.03" stroke="#333" stroke-width="0.9" />
<line x1="398.72" y1="327.94" x2="402.52" y2="327.94" stroke="#333" stroke-width="0.9" />
<line x1="414.05" y1="292.12" x2="414.05" y2="324.95" stroke="#333" stroke-width="0.9" />
<line x1="412.15" y1="292.12" x2="415.95" y2="292.12" stroke="#333" stroke-width="0.9" />
<line x1="412.15" y1="324.95" x2="415.95" y2="324.95" stroke="#333" stroke-width="0.9" />
<line x1="427.48" y1="300.18" x2="427.48" y2="324.06" stroke="#333" stroke-width="0.9" />
<line x1="425.58" y1="300.18" x2="429.38" y2="300.18" stroke="#333" stroke-width="0.9" />
<line x1="425.58" y1="324.06" x2="429.38" y2="324.06" stroke="#333" stroke-width="0.9" />
<line x1="440.91" y1="302.86" x2="440.91" y2="314.8" stroke="#333" stroke-width="0.9" />
<line x1="439.01" y1="302.86" x2="442.81" y2="302.86" stroke="#333" stroke-width="0.9" />
<line x1="439.01" y1="314.8" x2="442.81" y2="314.8" stroke="#333" stroke-width="0.9" />
<line x1="454.34" y1="327.34" x2="454.34" y2="342.26" stroke="#333" stroke-width="0.9" />
<line x1="452.44" y1="327.34" x2="456.24" y2="327.34" stroke="#333" stroke-width="0.9" />
<line x1="452.44" y1="342.26" x2="456.24" y2="342.26" stroke="#333" stroke-width="0.9" />
<line x1="467.77" y1="331.52" x2="467.77" y2="343.46" stroke="#333" stroke-width="0.9" />
<line x1="465.87" y1="331.52" x2="469.67" y2="331.52" stroke="#333" stroke-width="0.9" />
<line x1="465.87" y1="343.46" x2="469.67" y2="343.46" stroke="#333" stroke-width="0.9" />
<line x1="481.2" y1="337.79" x2="481.2" y2="349.73" stroke="#333" stroke-width="0.9" />
<line x1="479.3" y1="337.79" x2="483.1" y2="337.79" stroke="#333" stroke-width="0.9" />
<line x1="479.3" y1="349.73" x2="483.1" y2="349.73" stroke="#333" stroke-width="0.9" />
<line x1="494.63" y1="349.13" x2="494.63" y2="361.07" stroke="#333" stroke-width="0.9" />
<line x1="492.73" y1="349.13" x2="496.53" y2="349.13" stroke="#333" stroke-width="0.9" />
<line x1="492.73" y1="361.07" x2="496.53" y2="361.07" stroke="#333" stroke-width="0.9" />
<line x1="508.06" y1="344.65" x2="508.06" y2="356.59" stroke="#333" stroke-width="0.9" />
<line x1="506.16" y1="344.65" x2="509.96" y2="344.65" stroke="#333" stroke-width="0.9" />
<line x1="506.16" y1="356.59" x2="509.96" y2="356.59" stroke="#333" stroke-width="0.9" />
<line x1="521.49" y1="350.03" x2="521.49" y2="361.97" stroke="#333" stroke-width="0.9" />
<line x1="519.59" y1="350.03" x2="523.39" y2="350.03" stroke="#333" stroke-width="0.9" />
<line x1="519.59" y1="361.97" x2="523.39" y2="361.97" stroke="#333" stroke-width="0.9" />
<line x1="534.92" y1="352.41" x2="534.92" y2="373.31" stroke="#333" stroke-width="0.9" />
<line x1="533.02" y1="352.41" x2="536.82" y2="352.41" stroke="#333" stroke-width="0.9" />
<line x1="533.02" y1="373.31" x2="536.82" y2="373.31" stroke="#333" stroke-width="0.9" />
<line x1="346.9" y1="359.58" x2="346.9" y2="368.53" stroke="#333" stroke-width="0.9" />
<line x1="345" y1="359.58" x2="348.8" y2="359.58" stroke="#333" stroke-width="0.9" />
<line x1="345" y1="368.53" x2="348.8" y2="368.53" stroke="#333" stroke-width="0.9" />
<line x1="360.33" y1="355.4" x2="360.33" y2="367.34" stroke="#333" stroke-width="0.9" />
<line x1="358.43" y1="355.4" x2="362.23" y2="355.4" stroke="#333" stroke-width="0.9" />
<line x1="358.43" y1="367.34" x2="362.23" y2="367.34" stroke="#333" stroke-width="0.9" />
<line x1="373.76" y1="350.62" x2="373.76" y2="362.56" stroke="#333" stroke-width="0.9" />
<line x1="371.86" y1="350.62" x2="375.66" y2="350.62" stroke="#333" stroke-width="0.9" />
<line x1="371.86" y1="362.56" x2="375.66" y2="362.56" stroke="#333" stroke-width="0.9" />
<line x1="387.19" y1="336" x2="387.19" y2="359.88" stroke="#333" stroke-width="0.9" />
<line x1="385.29" y1="336" x2="389.09" y2="336" stroke="#333" stroke-width="0.9" />
<line x1="385.29" y1="359.88" x2="389.09" y2="359.88" stroke="#333" stroke-width="0.9" />
<line x1="400.62" y1="324.95" x2="400.62" y2="354.8" stroke="#333" stroke-width="0.9" />
<line x1="398.72" y1="324.95" x2="402.52" y2="324.95" stroke="#333" stroke-width="0.9" />
<line x1="398.72" y1="354.8" x2="402.52" y2="354.8" stroke="#333" stroke-width="0.9" />
<line x1="414.05" y1="322.26" x2="414.05" y2="355.1" stroke="#333" stroke-width="0.9" />
<line x1="412.15" y1="322.26" x2="415.95" y2="322.26" stroke="#333" stroke-width="0.9" />
<line x1="412.15" y1="355.1" x2="415.95" y2="355.1" stroke="#333" stroke-width="0.9" />
<line x1="427.48" y1="322.56" x2="427.48" y2="352.41" stroke="#333" stroke-width="0.9" />
<line x1="425.58" y1="322.56" x2="429.38" y2="322.56" stroke="#333" stroke-width="0.9" />
<line x1="425.58" y1="352.41" x2="429.38" y2="352.41" stroke="#333" stroke-width="0.9" />
<line x1="440.91" y1="332.71" x2="440.91" y2="344.65" stroke="#333" stroke-width="0.9" />
<line x1="439.01" y1="332.71" x2="442.81" y2="332.71" stroke="#333" stroke-width="0.9" />
<line x1="439.01" y1="344.65" x2="442.81" y2="344.65" stroke="#333" stroke-width="0.9" />
<line x1="454.34" y1="351.22" x2="454.34" y2="363.16" stroke="#333" stroke-width="0.9" />
<line x1="452.44" y1="351.22" x2="456.24" y2="351.22" stroke="#333" stroke-width="0.9" />
<line x1="452.44" y1="363.16" x2="456.24" y2="363.16" stroke="#333" stroke-width="0.9" />
<line x1="467.77" y1="351.22" x2="467.77" y2="366.14" stroke="#333" stroke-width="0.9" />
<line x1="465.87" y1="351.22" x2="469.67" y2="351.22" stroke="#333" stroke-width="0.9" />
<line x1="465.87" y1="366.14" x2="469.67" y2="366.14" stroke="#333" stroke-width="0.9" />
<line x1="481.2" y1="358.98" x2="481.2" y2="370.92" stroke="#333" stroke-width="0.9" />
<line x1="479.3" y1="358.98" x2="483.1" y2="358.98" stroke="#333" stroke-width="0.9" />
<line x1="479.3" y1="370.92" x2="483.1" y2="370.92" stroke="#333" stroke-width="0.9" />
<line x1="494.63" y1="359.28" x2="494.63" y2="377.19" stroke="#333" stroke-width="0.9" />
<line x1="492.73" y1="359.28" x2="496.53" y2="359.28" stroke="#333" stroke-width="0.9" />
<line x1="492.73" y1="377.19" x2="496.53" y2="377.19" stroke="#333" stroke-width="0.9" />
<line x1="508.06" y1="369.73" x2="508.06" y2="381.67" stroke="#333" stroke-width="0.9" />
<line x1="506.16" y1="369.73" x2="509.96" y2="369.73" stroke="#333" stroke-width="0.9" />
<line x1="506.16" y1="381.67" x2="509.96" y2="381.67" stroke="#333" stroke-width="0.9" />
<line x1="521.49" y1="377.19" x2="521.49" y2="389.13" stroke="#333" stroke-width="0.9" />
<line x1="519.59" y1="377.19" x2="523.39" y2="377.19" stroke="#333" stroke-width="0.9" />
<line x1="519.59" y1="389.13" x2="523.39" y2="389.13" stroke="#333" stroke-width="0.9" />
<line x1="534.92" y1="373.01" x2="534.92" y2="387.93" stroke="#333" stroke-width="0.9" />
<line x1="533.02" y1="373.01" x2="536.82" y2="373.01" stroke="#333" stroke-width="0.9" />
<line x1="533.02" y1="387.93" x2="536.82" y2="387.93" stroke="#333" stroke-width="0.9" />
<rect x="343.45" y="363.7" width="6.9" height="4.3" fill="#fff" stroke="#606060" stroke-width="1"/>
<rect x="356.88" y="358.32" width="6.9" height="4.3" fill="#fff" stroke="#606060" stroke-width="1"/>
<rect x="370.31" y="354.44" width="6.9" height="4.3" fill="#fff" stroke="#606060" stroke-width="1"/>
<rect x="383.74" y="362.8" width="6.9" height="4.3" fill="#fff" stroke="#606060" stroke-width="1"/>
<rect x="397.17" y="356.53" width="6.9" height="4.3" fill="#fff" stroke="#606060" stroke-width="1"/>
<rect x="410.6" y="356.53" width="6.9" height="4.3" fill="#fff" stroke="#606060" stroke-width="1"/>
<rect x="424.03" y="351.46" width="6.9" height="4.3" fill="#fff" stroke="#606060" stroke-width="1"/>
<rect x="437.46" y="351.46" width="6.9" height="4.3" fill="#fff" stroke="#606060" stroke-width="1"/>
<rect x="450.89" y="359.22" width="6.9" height="4.3" fill="#fff" stroke="#606060" stroke-width="1"/>
<rect x="464.32" y="347.28" width="6.9" height="4.3" fill="#fff" stroke="#606060" stroke-width="1"/>
<rect x="477.75" y="344.29" width="6.9" height="4.3" fill="#fff" stroke="#606060" stroke-width="1"/>
<rect x="491.18" y="342.2" width="6.9" height="4.3" fill="#fff" stroke="#606060" stroke-width="1"/>
<rect x="504.61" y="348.47" width="6.9" height="4.3" fill="#fff" stroke="#606060" stroke-width="1"/>
<rect x="518.04" y="342.2" width="6.9" height="4.3" fill="#fff" stroke="#606060" stroke-width="1"/>
<rect x="531.47" y="351.46" width="6.9" height="4.3" fill="#fff" stroke="#606060" stroke-width="1"/>
<ellipse cx="346.9" cy="356.29" rx="3.45" ry="2.15" fill="#fff" stroke="#111" stroke-width="1"/>
<ellipse cx="360.33" cy="359.58" rx="3.45" ry="2.15" fill="#fff" stroke="#111" stroke-width="1"/>
<ellipse cx="373.76" cy="352.11" rx="3.45" ry="2.15" fill="#fff" stroke="#111" stroke-width="1"/>
<ellipse cx="387.19" cy="338.38" rx="3.45" ry="2.15" fill="#fff" stroke="#111" stroke-width="1"/>
<ellipse cx="400.62" cy="325.25" rx="3.45" ry="2.15" fill="#fff" stroke="#111" stroke-width="1"/>
<ellipse cx="414.05" cy="322.86" rx="3.45" ry="2.15" fill="#fff" stroke="#111" stroke-width="1"/>
<ellipse cx="427.48" cy="318.98" rx="3.45" ry="2.15" fill="#fff" stroke="#111" stroke-width="1"/>
<ellipse cx="440.91" cy="320.18" rx="3.45" ry="2.15" fill="#fff" stroke="#111" stroke-width="1"/>
<ellipse cx="454.34" cy="336.89" rx="3.45" ry="2.15" fill="#fff" stroke="#111" stroke-width="1"/>
<ellipse cx="467.77" cy="351.52" rx="3.45" ry="2.15" fill="#fff" stroke="#111" stroke-width="1"/>
<ellipse cx="481.2" cy="346.44" rx="3.45" ry="2.15" fill="#fff" stroke="#111" stroke-width="1"/>
<ellipse cx="494.63" cy="370.02" rx="3.45" ry="2.15" fill="#fff" stroke="#111" stroke-width="1"/>
<ellipse cx="508.06" cy="375.1" rx="3.45" ry="2.15" fill="#fff" stroke="#111" stroke-width="1"/>
<ellipse cx="521.49" cy="382.26" rx="3.45" ry="2.15" fill="#fff" stroke="#111" stroke-width="1"/>
<ellipse cx="534.92" cy="374.5" rx="3.45" ry="2.15" fill="#fff" stroke="#111" stroke-width="1"/>
<rect x="343.45" y="361.61" width="6.9" height="4.3" fill="#111" stroke="#111" stroke-width="0.8"/>
<rect x="356.88" y="359.22" width="6.9" height="4.3" fill="#111" stroke="#111" stroke-width="0.8"/>
<rect x="370.31" y="354.44" width="6.9" height="4.3" fill="#111" stroke="#111" stroke-width="0.8"/>
<rect x="383.74" y="328.47" width="6.9" height="4.3" fill="#111" stroke="#111" stroke-width="0.8"/>
<rect x="397.17" y="316.83" width="6.9" height="4.3" fill="#111" stroke="#111" stroke-width="0.8"/>
<rect x="410.6" y="306.38" width="6.9" height="4.3" fill="#111" stroke="#111" stroke-width="0.8"/>
<rect x="424.03" y="309.97" width="6.9" height="4.3" fill="#111" stroke="#111" stroke-width="0.8"/>
<rect x="437.46" y="306.68" width="6.9" height="4.3" fill="#111" stroke="#111" stroke-width="0.8"/>
<rect x="450.89" y="332.65" width="6.9" height="4.3" fill="#111" stroke="#111" stroke-width="0.8"/>
<rect x="464.32" y="335.34" width="6.9" height="4.3" fill="#111" stroke="#111" stroke-width="0.8"/>
<rect x="477.75" y="341.61" width="6.9" height="4.3" fill="#111" stroke="#111" stroke-width="0.8"/>
<rect x="491.18" y="352.95" width="6.9" height="4.3" fill="#111" stroke="#111" stroke-width="0.8"/>
<rect x="504.61" y="348.47" width="6.9" height="4.3" fill="#111" stroke="#111" stroke-width="0.8"/>
<rect x="518.04" y="353.85" width="6.9" height="4.3" fill="#111" stroke="#111" stroke-width="0.8"/>
<rect x="531.47" y="360.71" width="6.9" height="4.3" fill="#111" stroke="#111" stroke-width="0.8"/>
<ellipse cx="346.9" cy="364.05" rx="3.45" ry="2.15" fill="#111" stroke="#111" stroke-width="0.8"/>
<ellipse cx="360.33" cy="361.37" rx="3.45" ry="2.15" fill="#111" stroke="#111" stroke-width="0.8"/>
<ellipse cx="373.76" cy="356.59" rx="3.45" ry="2.15" fill="#111" stroke="#111" stroke-width="0.8"/>
<ellipse cx="387.19" cy="347.94" rx="3.45" ry="2.15" fill="#111" stroke="#111" stroke-width="0.8"/>
<ellipse cx="400.62" cy="339.88" rx="3.45" ry="2.15" fill="#111" stroke="#111" stroke-width="0.8"/>
<ellipse cx="414.05" cy="338.68" rx="3.45" ry="2.15" fill="#111" stroke="#111" stroke-width="0.8"/>
<ellipse cx="427.48" cy="337.49" rx="3.45" ry="2.15" fill="#111" stroke="#111" stroke-width="0.8"/>
<ellipse cx="440.91" cy="338.68" rx="3.45" ry="2.15" fill="#111" stroke="#111" stroke-width="0.8"/>
<ellipse cx="454.34" cy="357.19" rx="3.45" ry="2.15" fill="#111" stroke="#111" stroke-width="0.8"/>
<ellipse cx="467.77" cy="358.68" rx="3.45" ry="2.15" fill="#111" stroke="#111" stroke-width="0.8"/>
<ellipse cx="481.2" cy="364.95" rx="3.45" ry="2.15" fill="#111" stroke="#111" stroke-width="0.8"/>
<ellipse cx="494.63" cy="368.23" rx="3.45" ry="2.15" fill="#111" stroke="#111" stroke-width="0.8"/>
<ellipse cx="508.06" cy="375.7" rx="3.45" ry="2.15" fill="#111" stroke="#111" stroke-width="0.8"/>
<ellipse cx="521.49" cy="383.16" rx="3.45" ry="2.15" fill="#111" stroke="#111" stroke-width="0.8"/>
<ellipse cx="534.92" cy="380.47" rx="3.45" ry="2.15" fill="#111" stroke="#111" stroke-width="0.8"/>
<text x="441.6" y="295.5" font-size="8.5" text-anchor="middle" font-weight="bold" fill="#1a1a1a" stroke="#1a1a1a" stroke-width="0.28">***</text>
<text x="440.9" y="299.5" font-size="5.2" text-anchor="middle" font-weight="normal" fill="#777" >‡‡</text>
<text x="444" y="320" font-size="5.2" text-anchor="start" font-weight="normal" fill="#888" >‡</text>
<text x="431.2" y="333" text-anchor="start"><tspan fill="#999" font-weight="normal" font-size="5.2">‡‡</tspan><tspan fill="#fff" font-weight="normal" font-size="5"> </tspan><tspan fill="#444" font-weight="normal" font-size="5.6">††</tspan><tspan fill="#111" font-weight="bold" font-size="6.2">§</tspan></text>
<text x="540.3" y="365.8" font-size="5.8" font-weight="bold" font-style="italic" fill="#555">###</text>
<text x="540.3" y="377" font-size="5.8" font-weight="bold" font-style="italic" fill="#555">###</text>
<text x="540.3" y="384.2" font-size="5.6" font-weight="bold" fill="#444"><tspan font-size="6.2">††</tspan><tspan dx="0.4" font-style="italic" fill="#555">###</tspan></text>
<text x="0" y="456.3" font-size="14.5" text-anchor="start" font-weight="bold" fill="#1a1a1a" stroke="#1a1a1a" stroke-width="0.28">e</text>
<line x1="53" y1="474.1" x2="53" y2="604.5" stroke="#1c1c1c" stroke-width="1.8" />
<line x1="50" y1="603.3" x2="56" y2="603.3" stroke="#1c1c1c" stroke-width="1.3" />
<text x="45.8" y="605.85" font-size="9.3" text-anchor="end" font-weight="bold" fill="#1a1a1a" stroke="#1a1a1a" stroke-width="0.28">200</text>
<line x1="50" y1="577.47" x2="56" y2="577.47" stroke="#1c1c1c" stroke-width="1.3" />
<text x="45.8" y="580.02" font-size="9.3" text-anchor="end" font-weight="bold" fill="#1a1a1a" stroke="#1a1a1a" stroke-width="0.28">250</text>
<line x1="50" y1="551.64" x2="56" y2="551.64" stroke="#1c1c1c" stroke-width="1.3" />
<text x="45.8" y="554.19" font-size="9.3" text-anchor="end" font-weight="bold" fill="#1a1a1a" stroke="#1a1a1a" stroke-width="0.28">300</text>
<line x1="50" y1="525.81" x2="56" y2="525.81" stroke="#1c1c1c" stroke-width="1.3" />
<text x="45.8" y="528.36" font-size="9.3" text-anchor="end" font-weight="bold" fill="#1a1a1a" stroke="#1a1a1a" stroke-width="0.28">350</text>
<line x1="50" y1="499.98" x2="56" y2="499.98" stroke="#1c1c1c" stroke-width="1.3" />
<text x="45.8" y="502.53" font-size="9.3" text-anchor="end" font-weight="bold" fill="#1a1a1a" stroke="#1a1a1a" stroke-width="0.28">400</text>
<line x1="50" y1="474.15" x2="56" y2="474.15" stroke="#1c1c1c" stroke-width="1.3" />
<text x="45.8" y="476.7" font-size="9.3" text-anchor="end" font-weight="bold" fill="#1a1a1a" stroke="#1a1a1a" stroke-width="0.28">450</text>
<line x1="52" y1="603.3" x2="263.4" y2="603.3" stroke="#1c1c1c" stroke-width="1.8" />
<line x1="67" y1="600.8" x2="67" y2="605.5" stroke="#1c1c1c" stroke-width="1.3" />
<line x1="80.96" y1="600.8" x2="80.96" y2="605.5" stroke="#1c1c1c" stroke-width="1.3" />
<line x1="94.92" y1="600.8" x2="94.92" y2="605.5" stroke="#1c1c1c" stroke-width="1.3" />
<line x1="108.88" y1="600.8" x2="108.88" y2="605.5" stroke="#1c1c1c" stroke-width="1.3" />
<line x1="122.84" y1="600.8" x2="122.84" y2="605.5" stroke="#1c1c1c" stroke-width="1.3" />
<line x1="136.8" y1="600.8" x2="136.8" y2="605.5" stroke="#1c1c1c" stroke-width="1.3" />
<line x1="150.76" y1="600.8" x2="150.76" y2="605.5" stroke="#1c1c1c" stroke-width="1.3" />
<line x1="164.72" y1="600.8" x2="164.72" y2="605.5" stroke="#1c1c1c" stroke-width="1.3" />
<line x1="178.68" y1="600.8" x2="178.68" y2="605.5" stroke="#1c1c1c" stroke-width="1.3" />
<line x1="192.64" y1="600.8" x2="192.64" y2="605.5" stroke="#1c1c1c" stroke-width="1.3" />
<line x1="206.6" y1="600.8" x2="206.6" y2="605.5" stroke="#1c1c1c" stroke-width="1.3" />
<line x1="220.56" y1="600.8" x2="220.56" y2="605.5" stroke="#1c1c1c" stroke-width="1.3" />
<line x1="234.52" y1="600.8" x2="234.52" y2="605.5" stroke="#1c1c1c" stroke-width="1.3" />
<line x1="248.48" y1="600.8" x2="248.48" y2="605.5" stroke="#1c1c1c" stroke-width="1.3" />
<line x1="262.44" y1="600.8" x2="262.44" y2="605.5" stroke="#1c1c1c" stroke-width="1.3" />
<text transform="translate(15,539.1) rotate(-90)" x="0" y="3.42" font-size="9.5" text-anchor="middle" font-weight="bold" fill="#1a1a1a" stroke="#1a1a1a" stroke-width="0.28">HR (beats / min)</text>
<text x="60.3" y="618" font-size="9.3" text-anchor="middle" font-weight="bold" fill="#1a1a1a" stroke="#1a1a1a" stroke-width="0.28">0</text>
<text x="74.26" y="618" font-size="9.3" text-anchor="middle" font-weight="bold" fill="#1a1a1a" stroke="#1a1a1a" stroke-width="0.28">1</text>
<text x="88.22" y="618" font-size="9.3" text-anchor="middle" font-weight="bold" fill="#1a1a1a" stroke="#1a1a1a" stroke-width="0.28">2</text>
<text x="102.18" y="618" font-size="9.3" text-anchor="middle" font-weight="bold" fill="#1a1a1a" stroke="#1a1a1a" stroke-width="0.28">3</text>
<text x="116.14" y="618" font-size="9.3" text-anchor="middle" font-weight="bold" fill="#1a1a1a" stroke="#1a1a1a" stroke-width="0.28">4</text>
<text x="130.1" y="618" font-size="9.3" text-anchor="middle" font-weight="bold" fill="#1a1a1a" stroke="#1a1a1a" stroke-width="0.28">5</text>
<text x="144.06" y="618" font-size="9.3" text-anchor="middle" font-weight="bold" fill="#1a1a1a" stroke="#1a1a1a" stroke-width="0.28">6</text>
<text x="158.02" y="618" font-size="9.3" text-anchor="middle" font-weight="bold" fill="#1a1a1a" stroke="#1a1a1a" stroke-width="0.28">7</text>
<text x="171.98" y="618" font-size="9.3" text-anchor="middle" font-weight="bold" fill="#1a1a1a" stroke="#1a1a1a" stroke-width="0.28">8</text>
<text x="185.94" y="618" font-size="9.3" text-anchor="middle" font-weight="bold" fill="#1a1a1a" stroke="#1a1a1a" stroke-width="0.28">9</text>
<text x="199.9" y="618" font-size="9.3" text-anchor="middle" font-weight="bold" fill="#1a1a1a" stroke="#1a1a1a" stroke-width="0.28">10</text>
<text x="213.86" y="618" font-size="9.3" text-anchor="middle" font-weight="bold" fill="#1a1a1a" stroke="#1a1a1a" stroke-width="0.28">11</text>
<text x="227.82" y="618" font-size="9.3" text-anchor="middle" font-weight="bold" fill="#1a1a1a" stroke="#1a1a1a" stroke-width="0.28">12</text>
<text x="241.78" y="618" font-size="9.3" text-anchor="middle" font-weight="bold" fill="#1a1a1a" stroke="#1a1a1a" stroke-width="0.28">13</text>
<text x="255.74" y="618" font-size="9.3" text-anchor="middle" font-weight="bold" fill="#1a1a1a" stroke="#1a1a1a" stroke-width="0.28">14</text>
<text x="266.1" y="618" font-size="9" text-anchor="start" font-weight="bold" fill="#1a1a1a" stroke="#1a1a1a" stroke-width="0.28">day</text>
<line x1="70.7" y1="621.3" x2="160.2" y2="621.3" stroke="#707070" stroke-width="1.6" />
<line x1="166.8" y1="621.3" x2="255.9" y2="621.3" stroke="#707070" stroke-width="1.6" />
<text x="115.4" y="634.1" font-size="9" text-anchor="middle" font-weight="bold" fill="#1a1a1a" stroke="#1a1a1a" stroke-width="0.28">HS</text>
<text x="210.9" y="634.1" font-size="9" text-anchor="middle" font-weight="bold" fill="#1a1a1a" stroke="#1a1a1a" stroke-width="0.28">NS</text>
<polyline points="60.3,501.79 74.26,513.72 88.22,508.5 102.18,504.01 116.14,505.66 130.1,512.59 144.06,503.7 158.02,503.29 171.98,515.48 185.94,512.02 199.9,507.73 213.86,501.01 227.82,501.32 241.78,520.64 255.74,520.64" fill="none" stroke="#888" stroke-width="0.9"/>
<polyline points="60.3,490.89 74.26,498.9 88.22,500.5 102.18,504.53 116.14,505.66 130.1,512.59 144.06,506.9 158.02,515.27 171.98,515.99 185.94,507.73 199.9,528.39 213.86,516.51 227.82,527.88 241.78,525.29 255.74,514.44" fill="none" stroke="#444" stroke-width="0.9"/>
<polyline points="60.3,499.72 74.26,514.19 88.22,517.39 102.18,512.12 116.14,511.4 130.1,504.99 144.06,516.61 158.02,508.19 171.98,515.48 185.94,507.42 199.9,498.17 213.86,495.33 227.82,497.5 241.78,517.03 255.74,517.54" fill="none" stroke="#444" stroke-width="0.9"/>
<polyline points="60.3,506.9 74.26,523.02 88.22,521.42 102.18,512.59 116.14,513.41 130.1,518.22 144.06,518.22 158.02,515.22 171.98,523.38 185.94,514.44 199.9,517.91 213.86,502.05 227.82,518.22 241.78,520.64 255.74,518.58" fill="none" stroke="#444" stroke-width="0.9"/>
<line x1="60.3" y1="500.24" x2="60.3" y2="503.34" stroke="#555" stroke-width="0.9" />
<line x1="58.5" y1="500.24" x2="62.1" y2="500.24" stroke="#555" stroke-width="0.9" />
<line x1="58.5" y1="503.34" x2="62.1" y2="503.34" stroke="#555" stroke-width="0.9" />
<line x1="74.26" y1="512.17" x2="74.26" y2="515.27" stroke="#555" stroke-width="0.9" />
<line x1="72.46" y1="512.17" x2="76.06" y2="512.17" stroke="#555" stroke-width="0.9" />
<line x1="72.46" y1="515.27" x2="76.06" y2="515.27" stroke="#555" stroke-width="0.9" />
<line x1="88.22" y1="505.92" x2="88.22" y2="511.09" stroke="#555" stroke-width="0.9" />
<line x1="86.42" y1="505.92" x2="90.02" y2="505.92" stroke="#555" stroke-width="0.9" />
<line x1="86.42" y1="511.09" x2="90.02" y2="511.09" stroke="#555" stroke-width="0.9" />
<line x1="102.18" y1="501.43" x2="102.18" y2="506.59" stroke="#555" stroke-width="0.9" />
<line x1="100.38" y1="501.43" x2="103.98" y2="501.43" stroke="#555" stroke-width="0.9" />
<line x1="100.38" y1="506.59" x2="103.98" y2="506.59" stroke="#555" stroke-width="0.9" />
<line x1="116.14" y1="503.08" x2="116.14" y2="508.25" stroke="#555" stroke-width="0.9" />
<line x1="114.34" y1="503.08" x2="117.94" y2="503.08" stroke="#555" stroke-width="0.9" />
<line x1="114.34" y1="508.25" x2="117.94" y2="508.25" stroke="#555" stroke-width="0.9" />
<line x1="130.1" y1="510" x2="130.1" y2="515.17" stroke="#555" stroke-width="0.9" />
<line x1="128.3" y1="510" x2="131.9" y2="510" stroke="#555" stroke-width="0.9" />
<line x1="128.3" y1="515.17" x2="131.9" y2="515.17" stroke="#555" stroke-width="0.9" />
<line x1="144.06" y1="499.05" x2="144.06" y2="508.35" stroke="#555" stroke-width="0.9" />
<line x1="142.26" y1="499.05" x2="145.86" y2="499.05" stroke="#555" stroke-width="0.9" />
<line x1="142.26" y1="508.35" x2="145.86" y2="508.35" stroke="#555" stroke-width="0.9" />
<line x1="158.02" y1="497.6" x2="158.02" y2="508.97" stroke="#555" stroke-width="0.9" />
<line x1="156.22" y1="497.6" x2="159.82" y2="497.6" stroke="#555" stroke-width="0.9" />
<line x1="156.22" y1="508.97" x2="159.82" y2="508.97" stroke="#555" stroke-width="0.9" />
<line x1="171.98" y1="509.28" x2="171.98" y2="521.68" stroke="#555" stroke-width="0.9" />
<line x1="170.18" y1="509.28" x2="173.78" y2="509.28" stroke="#555" stroke-width="0.9" />
<line x1="170.18" y1="521.68" x2="173.78" y2="521.68" stroke="#555" stroke-width="0.9" />
<line x1="185.94" y1="508.92" x2="185.94" y2="515.12" stroke="#555" stroke-width="0.9" />
<line x1="184.14" y1="508.92" x2="187.74" y2="508.92" stroke="#555" stroke-width="0.9" />
<line x1="184.14" y1="515.12" x2="187.74" y2="515.12" stroke="#555" stroke-width="0.9" />
<line x1="199.9" y1="504.63" x2="199.9" y2="510.83" stroke="#555" stroke-width="0.9" />
<line x1="198.1" y1="504.63" x2="201.7" y2="504.63" stroke="#555" stroke-width="0.9" />
<line x1="198.1" y1="510.83" x2="201.7" y2="510.83" stroke="#555" stroke-width="0.9" />
<line x1="213.86" y1="496.88" x2="213.86" y2="505.15" stroke="#555" stroke-width="0.9" />
<line x1="212.06" y1="496.88" x2="215.66" y2="496.88" stroke="#555" stroke-width="0.9" />
<line x1="212.06" y1="505.15" x2="215.66" y2="505.15" stroke="#555" stroke-width="0.9" />
<line x1="227.82" y1="498.74" x2="227.82" y2="503.91" stroke="#555" stroke-width="0.9" />
<line x1="226.02" y1="498.74" x2="229.62" y2="498.74" stroke="#555" stroke-width="0.9" />
<line x1="226.02" y1="503.91" x2="229.62" y2="503.91" stroke="#555" stroke-width="0.9" />
<line x1="241.78" y1="518.06" x2="241.78" y2="523.23" stroke="#555" stroke-width="0.9" />
<line x1="239.98" y1="518.06" x2="243.58" y2="518.06" stroke="#555" stroke-width="0.9" />
<line x1="239.98" y1="523.23" x2="243.58" y2="523.23" stroke="#555" stroke-width="0.9" />
<line x1="255.74" y1="517.03" x2="255.74" y2="524.26" stroke="#555" stroke-width="0.9" />
<line x1="253.94" y1="517.03" x2="257.54" y2="517.03" stroke="#555" stroke-width="0.9" />
<line x1="253.94" y1="524.26" x2="257.54" y2="524.26" stroke="#555" stroke-width="0.9" />
<line x1="60.3" y1="489.34" x2="60.3" y2="492.44" stroke="#555" stroke-width="0.9" />
<line x1="58.5" y1="489.34" x2="62.1" y2="489.34" stroke="#555" stroke-width="0.9" />
<line x1="58.5" y1="492.44" x2="62.1" y2="492.44" stroke="#555" stroke-width="0.9" />
<line x1="74.26" y1="497.35" x2="74.26" y2="500.44" stroke="#555" stroke-width="0.9" />
<line x1="72.46" y1="497.35" x2="76.06" y2="497.35" stroke="#555" stroke-width="0.9" />
<line x1="72.46" y1="500.44" x2="76.06" y2="500.44" stroke="#555" stroke-width="0.9" />
<line x1="88.22" y1="496.36" x2="88.22" y2="504.63" stroke="#555" stroke-width="0.9" />
<line x1="86.42" y1="496.36" x2="90.02" y2="496.36" stroke="#555" stroke-width="0.9" />
<line x1="86.42" y1="504.63" x2="90.02" y2="504.63" stroke="#555" stroke-width="0.9" />
<line x1="102.18" y1="499.36" x2="102.18" y2="509.69" stroke="#555" stroke-width="0.9" />
<line x1="100.38" y1="499.36" x2="103.98" y2="499.36" stroke="#555" stroke-width="0.9" />
<line x1="100.38" y1="509.69" x2="103.98" y2="509.69" stroke="#555" stroke-width="0.9" />
<line x1="116.14" y1="498.43" x2="116.14" y2="512.89" stroke="#555" stroke-width="0.9" />
<line x1="114.34" y1="498.43" x2="117.94" y2="498.43" stroke="#555" stroke-width="0.9" />
<line x1="114.34" y1="512.89" x2="117.94" y2="512.89" stroke="#555" stroke-width="0.9" />
<line x1="130.1" y1="510" x2="130.1" y2="515.17" stroke="#555" stroke-width="0.9" />
<line x1="128.3" y1="510" x2="131.9" y2="510" stroke="#555" stroke-width="0.9" />
<line x1="128.3" y1="515.17" x2="131.9" y2="515.17" stroke="#555" stroke-width="0.9" />
<line x1="144.06" y1="504.32" x2="144.06" y2="509.49" stroke="#555" stroke-width="0.9" />
<line x1="142.26" y1="504.32" x2="145.86" y2="504.32" stroke="#555" stroke-width="0.9" />
<line x1="142.26" y1="509.49" x2="145.86" y2="509.49" stroke="#555" stroke-width="0.9" />
<line x1="158.02" y1="512.69" x2="158.02" y2="517.85" stroke="#555" stroke-width="0.9" />
<line x1="156.22" y1="512.69" x2="159.82" y2="512.69" stroke="#555" stroke-width="0.9" />
<line x1="156.22" y1="517.85" x2="159.82" y2="517.85" stroke="#555" stroke-width="0.9" />
<line x1="171.98" y1="513.41" x2="171.98" y2="518.58" stroke="#555" stroke-width="0.9" />
<line x1="170.18" y1="513.41" x2="173.78" y2="513.41" stroke="#555" stroke-width="0.9" />
<line x1="170.18" y1="518.58" x2="173.78" y2="518.58" stroke="#555" stroke-width="0.9" />
<line x1="185.94" y1="504.11" x2="185.94" y2="511.35" stroke="#555" stroke-width="0.9" />
<line x1="184.14" y1="504.11" x2="187.74" y2="504.11" stroke="#555" stroke-width="0.9" />
<line x1="184.14" y1="511.35" x2="187.74" y2="511.35" stroke="#555" stroke-width="0.9" />
<line x1="199.9" y1="525.81" x2="199.9" y2="530.98" stroke="#555" stroke-width="0.9" />
<line x1="198.1" y1="525.81" x2="201.7" y2="525.81" stroke="#555" stroke-width="0.9" />
<line x1="198.1" y1="530.98" x2="201.7" y2="530.98" stroke="#555" stroke-width="0.9" />
<line x1="213.86" y1="512.38" x2="213.86" y2="520.64" stroke="#555" stroke-width="0.9" />
<line x1="212.06" y1="512.38" x2="215.66" y2="512.38" stroke="#555" stroke-width="0.9" />
<line x1="212.06" y1="520.64" x2="215.66" y2="520.64" stroke="#555" stroke-width="0.9" />
<line x1="227.82" y1="525.29" x2="227.82" y2="530.46" stroke="#555" stroke-width="0.9" />
<line x1="226.02" y1="525.29" x2="229.62" y2="525.29" stroke="#555" stroke-width="0.9" />
<line x1="226.02" y1="530.46" x2="229.62" y2="530.46" stroke="#555" stroke-width="0.9" />
<line x1="241.78" y1="522.71" x2="241.78" y2="527.88" stroke="#555" stroke-width="0.9" />
<line x1="239.98" y1="522.71" x2="243.58" y2="522.71" stroke="#555" stroke-width="0.9" />
<line x1="239.98" y1="527.88" x2="243.58" y2="527.88" stroke="#555" stroke-width="0.9" />
<line x1="255.74" y1="510.83" x2="255.74" y2="518.06" stroke="#555" stroke-width="0.9" />
<line x1="253.94" y1="510.83" x2="257.54" y2="510.83" stroke="#555" stroke-width="0.9" />
<line x1="253.94" y1="518.06" x2="257.54" y2="518.06" stroke="#555" stroke-width="0.9" />
<line x1="60.3" y1="497.14" x2="60.3" y2="502.3" stroke="#555" stroke-width="0.9" />
<line x1="58.5" y1="497.14" x2="62.1" y2="497.14" stroke="#555" stroke-width="0.9" />
<line x1="58.5" y1="502.3" x2="62.1" y2="502.3" stroke="#555" stroke-width="0.9" />
<line x1="74.26" y1="511.6" x2="74.26" y2="516.77" stroke="#555" stroke-width="0.9" />
<line x1="72.46" y1="511.6" x2="76.06" y2="511.6" stroke="#555" stroke-width="0.9" />
<line x1="72.46" y1="516.77" x2="76.06" y2="516.77" stroke="#555" stroke-width="0.9" />
<line x1="88.22" y1="514.81" x2="88.22" y2="519.97" stroke="#555" stroke-width="0.9" />
<line x1="86.42" y1="514.81" x2="90.02" y2="514.81" stroke="#555" stroke-width="0.9" />
<line x1="86.42" y1="519.97" x2="90.02" y2="519.97" stroke="#555" stroke-width="0.9" />
<line x1="102.18" y1="507.99" x2="102.18" y2="516.25" stroke="#555" stroke-width="0.9" />
<line x1="100.38" y1="507.99" x2="103.98" y2="507.99" stroke="#555" stroke-width="0.9" />
<line x1="100.38" y1="516.25" x2="103.98" y2="516.25" stroke="#555" stroke-width="0.9" />
<line x1="116.14" y1="508.81" x2="116.14" y2="513.98" stroke="#555" stroke-width="0.9" />
<line x1="114.34" y1="508.81" x2="117.94" y2="508.81" stroke="#555" stroke-width="0.9" />
<line x1="114.34" y1="513.98" x2="117.94" y2="513.98" stroke="#555" stroke-width="0.9" />
<line x1="130.1" y1="499.31" x2="130.1" y2="510.67" stroke="#555" stroke-width="0.9" />
<line x1="128.3" y1="499.31" x2="131.9" y2="499.31" stroke="#555" stroke-width="0.9" />
<line x1="128.3" y1="510.67" x2="131.9" y2="510.67" stroke="#555" stroke-width="0.9" />
<line x1="144.06" y1="514.03" x2="144.06" y2="519.2" stroke="#555" stroke-width="0.9" />
<line x1="142.26" y1="514.03" x2="145.86" y2="514.03" stroke="#555" stroke-width="0.9" />
<line x1="142.26" y1="519.2" x2="145.86" y2="519.2" stroke="#555" stroke-width="0.9" />
<line x1="158.02" y1="504.06" x2="158.02" y2="512.33" stroke="#555" stroke-width="0.9" />
<line x1="156.22" y1="504.06" x2="159.82" y2="504.06" stroke="#555" stroke-width="0.9" />
<line x1="156.22" y1="512.33" x2="159.82" y2="512.33" stroke="#555" stroke-width="0.9" />
<line x1="171.98" y1="512.38" x2="171.98" y2="518.58" stroke="#555" stroke-width="0.9" />
<line x1="170.18" y1="512.38" x2="173.78" y2="512.38" stroke="#555" stroke-width="0.9" />
<line x1="170.18" y1="518.58" x2="173.78" y2="518.58" stroke="#555" stroke-width="0.9" />
<line x1="185.94" y1="499.67" x2="185.94" y2="515.17" stroke="#555" stroke-width="0.9" />
<line x1="184.14" y1="499.67" x2="187.74" y2="499.67" stroke="#555" stroke-width="0.9" />
<line x1="184.14" y1="515.17" x2="187.74" y2="515.17" stroke="#555" stroke-width="0.9" />
<line x1="199.9" y1="494.04" x2="199.9" y2="502.3" stroke="#555" stroke-width="0.9" />
<line x1="198.1" y1="494.04" x2="201.7" y2="494.04" stroke="#555" stroke-width="0.9" />
<line x1="198.1" y1="502.3" x2="201.7" y2="502.3" stroke="#555" stroke-width="0.9" />
<line x1="213.86" y1="492.75" x2="213.86" y2="497.91" stroke="#555" stroke-width="0.9" />
<line x1="212.06" y1="492.75" x2="215.66" y2="492.75" stroke="#555" stroke-width="0.9" />
<line x1="212.06" y1="497.91" x2="215.66" y2="497.91" stroke="#555" stroke-width="0.9" />
<line x1="227.82" y1="494.92" x2="227.82" y2="500.08" stroke="#555" stroke-width="0.9" />
<line x1="226.02" y1="494.92" x2="229.62" y2="494.92" stroke="#555" stroke-width="0.9" />
<line x1="226.02" y1="500.08" x2="229.62" y2="500.08" stroke="#555" stroke-width="0.9" />
<line x1="241.78" y1="514.44" x2="241.78" y2="519.61" stroke="#555" stroke-width="0.9" />
<line x1="239.98" y1="514.44" x2="243.58" y2="514.44" stroke="#555" stroke-width="0.9" />
<line x1="239.98" y1="519.61" x2="243.58" y2="519.61" stroke="#555" stroke-width="0.9" />
<line x1="255.74" y1="512.89" x2="255.74" y2="522.19" stroke="#555" stroke-width="0.9" />
<line x1="253.94" y1="512.89" x2="257.54" y2="512.89" stroke="#555" stroke-width="0.9" />
<line x1="253.94" y1="522.19" x2="257.54" y2="522.19" stroke="#555" stroke-width="0.9" />
<line x1="60.3" y1="504.32" x2="60.3" y2="509.49" stroke="#555" stroke-width="0.9" />
<line x1="58.5" y1="504.32" x2="62.1" y2="504.32" stroke="#555" stroke-width="0.9" />
<line x1="58.5" y1="509.49" x2="62.1" y2="509.49" stroke="#555" stroke-width="0.9" />
<line x1="74.26" y1="520.44" x2="74.26" y2="525.6" stroke="#555" stroke-width="0.9" />
<line x1="72.46" y1="520.44" x2="76.06" y2="520.44" stroke="#555" stroke-width="0.9" />
<line x1="72.46" y1="525.6" x2="76.06" y2="525.6" stroke="#555" stroke-width="0.9" />
<line x1="88.22" y1="518.84" x2="88.22" y2="524" stroke="#555" stroke-width="0.9" />
<line x1="86.42" y1="518.84" x2="90.02" y2="518.84" stroke="#555" stroke-width="0.9" />
<line x1="86.42" y1="524" x2="90.02" y2="524" stroke="#555" stroke-width="0.9" />
<line x1="102.18" y1="509.49" x2="102.18" y2="515.68" stroke="#555" stroke-width="0.9" />
<line x1="100.38" y1="509.49" x2="103.98" y2="509.49" stroke="#555" stroke-width="0.9" />
<line x1="100.38" y1="515.68" x2="103.98" y2="515.68" stroke="#555" stroke-width="0.9" />
<line x1="116.14" y1="510.83" x2="116.14" y2="515.99" stroke="#555" stroke-width="0.9" />
<line x1="114.34" y1="510.83" x2="117.94" y2="510.83" stroke="#555" stroke-width="0.9" />
<line x1="114.34" y1="515.99" x2="117.94" y2="515.99" stroke="#555" stroke-width="0.9" />
<line x1="130.1" y1="515.63" x2="130.1" y2="520.8" stroke="#555" stroke-width="0.9" />
<line x1="128.3" y1="515.63" x2="131.9" y2="515.63" stroke="#555" stroke-width="0.9" />
<line x1="128.3" y1="520.8" x2="131.9" y2="520.8" stroke="#555" stroke-width="0.9" />
<line x1="144.06" y1="515.63" x2="144.06" y2="520.8" stroke="#555" stroke-width="0.9" />
<line x1="142.26" y1="515.63" x2="145.86" y2="515.63" stroke="#555" stroke-width="0.9" />
<line x1="142.26" y1="520.8" x2="145.86" y2="520.8" stroke="#555" stroke-width="0.9" />
<line x1="158.02" y1="509.02" x2="158.02" y2="521.42" stroke="#555" stroke-width="0.9" />
<line x1="156.22" y1="509.02" x2="159.82" y2="509.02" stroke="#555" stroke-width="0.9" />
<line x1="156.22" y1="521.42" x2="159.82" y2="521.42" stroke="#555" stroke-width="0.9" />
<line x1="171.98" y1="517.7" x2="171.98" y2="529.06" stroke="#555" stroke-width="0.9" />
<line x1="170.18" y1="517.7" x2="173.78" y2="517.7" stroke="#555" stroke-width="0.9" />
<line x1="170.18" y1="529.06" x2="173.78" y2="529.06" stroke="#555" stroke-width="0.9" />
<line x1="185.94" y1="510.31" x2="185.94" y2="518.58" stroke="#555" stroke-width="0.9" />
<line x1="184.14" y1="510.31" x2="187.74" y2="510.31" stroke="#555" stroke-width="0.9" />
<line x1="184.14" y1="518.58" x2="187.74" y2="518.58" stroke="#555" stroke-width="0.9" />
<line x1="199.9" y1="515.32" x2="199.9" y2="520.49" stroke="#555" stroke-width="0.9" />
<line x1="198.1" y1="515.32" x2="201.7" y2="515.32" stroke="#555" stroke-width="0.9" />
<line x1="198.1" y1="520.49" x2="201.7" y2="520.49" stroke="#555" stroke-width="0.9" />
<line x1="213.86" y1="499.46" x2="213.86" y2="504.63" stroke="#555" stroke-width="0.9" />
<line x1="212.06" y1="499.46" x2="215.66" y2="499.46" stroke="#555" stroke-width="0.9" />
<line x1="212.06" y1="504.63" x2="215.66" y2="504.63" stroke="#555" stroke-width="0.9" />
<line x1="227.82" y1="515.63" x2="227.82" y2="520.8" stroke="#555" stroke-width="0.9" />
<line x1="226.02" y1="515.63" x2="229.62" y2="515.63" stroke="#555" stroke-width="0.9" />
<line x1="226.02" y1="520.8" x2="229.62" y2="520.8" stroke="#555" stroke-width="0.9" />
<line x1="241.78" y1="518.06" x2="241.78" y2="523.23" stroke="#555" stroke-width="0.9" />
<line x1="239.98" y1="518.06" x2="243.58" y2="518.06" stroke="#555" stroke-width="0.9" />
<line x1="239.98" y1="523.23" x2="243.58" y2="523.23" stroke="#555" stroke-width="0.9" />
<line x1="255.74" y1="514.96" x2="255.74" y2="522.19" stroke="#555" stroke-width="0.9" />
<line x1="253.94" y1="514.96" x2="257.54" y2="514.96" stroke="#555" stroke-width="0.9" />
<line x1="253.94" y1="522.19" x2="257.54" y2="522.19" stroke="#555" stroke-width="0.9" />
<rect x="57.5" y="499.09" width="5.6" height="5.4" fill="#fff" stroke="#606060" stroke-width="1"/>
<rect x="71.46" y="511.02" width="5.6" height="5.4" fill="#fff" stroke="#606060" stroke-width="1"/>
<rect x="85.42" y="505.8" width="5.6" height="5.4" fill="#fff" stroke="#606060" stroke-width="1"/>
<rect x="99.38" y="501.31" width="5.6" height="5.4" fill="#fff" stroke="#606060" stroke-width="1"/>
<rect x="113.34" y="502.96" width="5.6" height="5.4" fill="#fff" stroke="#606060" stroke-width="1"/>
<rect x="127.3" y="509.89" width="5.6" height="5.4" fill="#fff" stroke="#606060" stroke-width="1"/>
<rect x="141.26" y="501" width="5.6" height="5.4" fill="#fff" stroke="#606060" stroke-width="1"/>
<rect x="155.22" y="500.59" width="5.6" height="5.4" fill="#fff" stroke="#606060" stroke-width="1"/>
<rect x="169.18" y="512.78" width="5.6" height="5.4" fill="#fff" stroke="#606060" stroke-width="1"/>
<rect x="183.14" y="509.32" width="5.6" height="5.4" fill="#fff" stroke="#606060" stroke-width="1"/>
<rect x="197.1" y="505.03" width="5.6" height="5.4" fill="#fff" stroke="#606060" stroke-width="1"/>
<rect x="211.06" y="498.31" width="5.6" height="5.4" fill="#fff" stroke="#606060" stroke-width="1"/>
<rect x="225.02" y="498.62" width="5.6" height="5.4" fill="#fff" stroke="#606060" stroke-width="1"/>
<rect x="238.98" y="517.94" width="5.6" height="5.4" fill="#fff" stroke="#606060" stroke-width="1"/>
<rect x="252.94" y="517.94" width="5.6" height="5.4" fill="#fff" stroke="#606060" stroke-width="1"/>
<ellipse cx="60.3" cy="490.89" rx="2.8" ry="2.7" fill="#fff" stroke="#111" stroke-width="1"/>
<ellipse cx="74.26" cy="498.9" rx="2.8" ry="2.7" fill="#fff" stroke="#111" stroke-width="1"/>
<ellipse cx="88.22" cy="500.5" rx="2.8" ry="2.7" fill="#fff" stroke="#111" stroke-width="1"/>
<ellipse cx="102.18" cy="504.53" rx="2.8" ry="2.7" fill="#fff" stroke="#111" stroke-width="1"/>
<ellipse cx="116.14" cy="505.66" rx="2.8" ry="2.7" fill="#fff" stroke="#111" stroke-width="1"/>
<ellipse cx="130.1" cy="512.59" rx="2.8" ry="2.7" fill="#fff" stroke="#111" stroke-width="1"/>
<ellipse cx="144.06" cy="506.9" rx="2.8" ry="2.7" fill="#fff" stroke="#111" stroke-width="1"/>
<ellipse cx="158.02" cy="515.27" rx="2.8" ry="2.7" fill="#fff" stroke="#111" stroke-width="1"/>
<ellipse cx="171.98" cy="515.99" rx="2.8" ry="2.7" fill="#fff" stroke="#111" stroke-width="1"/>
<ellipse cx="185.94" cy="507.73" rx="2.8" ry="2.7" fill="#fff" stroke="#111" stroke-width="1"/>
<ellipse cx="199.9" cy="528.39" rx="2.8" ry="2.7" fill="#fff" stroke="#111" stroke-width="1"/>
<ellipse cx="213.86" cy="516.51" rx="2.8" ry="2.7" fill="#fff" stroke="#111" stroke-width="1"/>
<ellipse cx="227.82" cy="527.88" rx="2.8" ry="2.7" fill="#fff" stroke="#111" stroke-width="1"/>
<ellipse cx="241.78" cy="525.29" rx="2.8" ry="2.7" fill="#fff" stroke="#111" stroke-width="1"/>
<ellipse cx="255.74" cy="514.44" rx="2.8" ry="2.7" fill="#fff" stroke="#111" stroke-width="1"/>
<rect x="57.5" y="497.02" width="5.6" height="5.4" fill="#111" stroke="#111" stroke-width="0.8"/>
<rect x="71.46" y="511.49" width="5.6" height="5.4" fill="#111" stroke="#111" stroke-width="0.8"/>
<rect x="85.42" y="514.69" width="5.6" height="5.4" fill="#111" stroke="#111" stroke-width="0.8"/>
<rect x="99.38" y="509.42" width="5.6" height="5.4" fill="#111" stroke="#111" stroke-width="0.8"/>
<rect x="113.34" y="508.7" width="5.6" height="5.4" fill="#111" stroke="#111" stroke-width="0.8"/>
<rect x="127.3" y="502.29" width="5.6" height="5.4" fill="#111" stroke="#111" stroke-width="0.8"/>
<rect x="141.26" y="513.91" width="5.6" height="5.4" fill="#111" stroke="#111" stroke-width="0.8"/>
<rect x="155.22" y="505.49" width="5.6" height="5.4" fill="#111" stroke="#111" stroke-width="0.8"/>
<rect x="169.18" y="512.78" width="5.6" height="5.4" fill="#111" stroke="#111" stroke-width="0.8"/>
<rect x="183.14" y="504.72" width="5.6" height="5.4" fill="#111" stroke="#111" stroke-width="0.8"/>
<rect x="197.1" y="495.47" width="5.6" height="5.4" fill="#111" stroke="#111" stroke-width="0.8"/>
<rect x="211.06" y="492.63" width="5.6" height="5.4" fill="#111" stroke="#111" stroke-width="0.8"/>
<rect x="225.02" y="494.8" width="5.6" height="5.4" fill="#111" stroke="#111" stroke-width="0.8"/>
<rect x="238.98" y="514.33" width="5.6" height="5.4" fill="#111" stroke="#111" stroke-width="0.8"/>
<rect x="252.94" y="514.84" width="5.6" height="5.4" fill="#111" stroke="#111" stroke-width="0.8"/>
<ellipse cx="60.3" cy="506.9" rx="2.8" ry="2.7" fill="#111" stroke="#111" stroke-width="0.8"/>
<ellipse cx="74.26" cy="523.02" rx="2.8" ry="2.7" fill="#111" stroke="#111" stroke-width="0.8"/>
<ellipse cx="88.22" cy="521.42" rx="2.8" ry="2.7" fill="#111" stroke="#111" stroke-width="0.8"/>
<ellipse cx="102.18" cy="512.59" rx="2.8" ry="2.7" fill="#111" stroke="#111" stroke-width="0.8"/>
<ellipse cx="116.14" cy="513.41" rx="2.8" ry="2.7" fill="#111" stroke="#111" stroke-width="0.8"/>
<ellipse cx="130.1" cy="518.22" rx="2.8" ry="2.7" fill="#111" stroke="#111" stroke-width="0.8"/>
<ellipse cx="144.06" cy="518.22" rx="2.8" ry="2.7" fill="#111" stroke="#111" stroke-width="0.8"/>
<ellipse cx="158.02" cy="515.22" rx="2.8" ry="2.7" fill="#111" stroke="#111" stroke-width="0.8"/>
<ellipse cx="171.98" cy="523.38" rx="2.8" ry="2.7" fill="#111" stroke="#111" stroke-width="0.8"/>
<ellipse cx="185.94" cy="514.44" rx="2.8" ry="2.7" fill="#111" stroke="#111" stroke-width="0.8"/>
<ellipse cx="199.9" cy="517.91" rx="2.8" ry="2.7" fill="#111" stroke="#111" stroke-width="0.8"/>
<ellipse cx="213.86" cy="502.05" rx="2.8" ry="2.7" fill="#111" stroke="#111" stroke-width="0.8"/>
<ellipse cx="227.82" cy="518.22" rx="2.8" ry="2.7" fill="#111" stroke="#111" stroke-width="0.8"/>
<ellipse cx="241.78" cy="520.64" rx="2.8" ry="2.7" fill="#111" stroke="#111" stroke-width="0.8"/>
<ellipse cx="255.74" cy="518.58" rx="2.8" ry="2.7" fill="#111" stroke="#111" stroke-width="0.8"/>
<text x="295" y="456.2" font-size="14.5" text-anchor="start" font-weight="bold" fill="#1a1a1a" stroke="#1a1a1a" stroke-width="0.28">f</text>
<line x1="340" y1="460.8" x2="340" y2="603.5" stroke="#1c1c1c" stroke-width="1.8" />
<line x1="337.5" y1="602.9" x2="341.5" y2="602.9" stroke="#1c1c1c" stroke-width="1.3" />
<text x="333" y="605.45" font-size="9.3" text-anchor="end" font-weight="bold" fill="#1a1a1a" stroke="#1a1a1a" stroke-width="0.28">0</text>
<line x1="337.5" y1="582.6" x2="341.5" y2="582.6" stroke="#1c1c1c" stroke-width="1.3" />
<text x="333" y="585.15" font-size="9.3" text-anchor="end" font-weight="bold" fill="#1a1a1a" stroke="#1a1a1a" stroke-width="0.28">5</text>
<line x1="337.5" y1="562.3" x2="341.5" y2="562.3" stroke="#1c1c1c" stroke-width="1.3" />
<text x="333" y="564.85" font-size="9.3" text-anchor="end" font-weight="bold" fill="#1a1a1a" stroke="#1a1a1a" stroke-width="0.28">10</text>
<line x1="337.5" y1="542" x2="341.5" y2="542" stroke="#1c1c1c" stroke-width="1.3" />
<text x="333" y="544.55" font-size="9.3" text-anchor="end" font-weight="bold" fill="#1a1a1a" stroke="#1a1a1a" stroke-width="0.28">15</text>
<line x1="337.5" y1="521.7" x2="341.5" y2="521.7" stroke="#1c1c1c" stroke-width="1.3" />
<text x="333" y="524.25" font-size="9.3" text-anchor="end" font-weight="bold" fill="#1a1a1a" stroke="#1a1a1a" stroke-width="0.28">20</text>
<line x1="337.5" y1="501.4" x2="341.5" y2="501.4" stroke="#1c1c1c" stroke-width="1.3" />
<text x="333" y="503.95" font-size="9.3" text-anchor="end" font-weight="bold" fill="#1a1a1a" stroke="#1a1a1a" stroke-width="0.28">25</text>
<line x1="337.5" y1="481.1" x2="341.5" y2="481.1" stroke="#1c1c1c" stroke-width="1.3" />
<text x="333" y="483.65" font-size="9.3" text-anchor="end" font-weight="bold" fill="#1a1a1a" stroke="#1a1a1a" stroke-width="0.28">30</text>
<line x1="337.5" y1="460.8" x2="341.5" y2="460.8" stroke="#1c1c1c" stroke-width="1.3" />
<text x="333" y="463.35" font-size="9.3" text-anchor="end" font-weight="bold" fill="#1a1a1a" stroke="#1a1a1a" stroke-width="0.28">35</text>
<line x1="338.9" y1="602.9" x2="463.4" y2="602.9" stroke="#1c1c1c" stroke-width="1.8" />
<line x1="463.1" y1="600.2" x2="463.1" y2="606" stroke="#1c1c1c" stroke-width="1.3" />
<text transform="translate(308.6,531.7) rotate(-90)" x="0" y="3.46" font-size="9.6" text-anchor="middle" font-weight="bold" fill="#1a1a1a" stroke="#1a1a1a" stroke-width="0.28">Active GLP-1 (pmol/ L)</text>
<rect x="355.1" y="569.61" width="21.5" height="33.29" fill="#fff" stroke="#444" stroke-width="1"/>
<line x1="365.85" y1="567.58" x2="365.85" y2="570.61" stroke="#555" stroke-width="0.9" />
<line x1="364.6" y1="567.58" x2="367.1" y2="567.58" stroke="#555" stroke-width="0.9" />
<line x1="364.6" y1="570.61" x2="367.1" y2="570.61" stroke="#555" stroke-width="0.9" />
<rect x="378.9" y="568.19" width="20.3" height="34.71" fill="#141414" stroke="#111" stroke-width="1"/>
<line x1="389.05" y1="566.97" x2="389.05" y2="569.19" stroke="#555" stroke-width="0.9" />
<line x1="387.8" y1="566.97" x2="390.3" y2="566.97" stroke="#555" stroke-width="0.9" />
<line x1="387.8" y1="569.19" x2="390.3" y2="569.19" stroke="#555" stroke-width="0.9" />
<rect x="401.4" y="564.33" width="20.9" height="38.57" fill="url(#diag)" stroke="#111" stroke-width="1"/>
<line x1="411.85" y1="563.11" x2="411.85" y2="565.33" stroke="#555" stroke-width="0.9" />
<line x1="410.6" y1="563.11" x2="413.1" y2="563.11" stroke="#555" stroke-width="0.9" />
<line x1="410.6" y1="565.33" x2="413.1" y2="565.33" stroke="#555" stroke-width="0.9" />
<rect x="424.5" y="492.06" width="21.4" height="110.84" fill="url(#hstr)" stroke="#111" stroke-width="1"/>
<line x1="435.2" y1="480.69" x2="435.2" y2="503.43" stroke="#555" stroke-width="0.9" />
<line x1="433.95" y1="480.69" x2="436.45" y2="480.69" stroke="#555" stroke-width="0.9" />
<line x1="433.95" y1="503.43" x2="436.45" y2="503.43" stroke="#555" stroke-width="0.9" />
<text x="436.1" y="466.8" font-size="6.2" text-anchor="middle" font-weight="normal" fill="#444" >†††</text>
<text x="436.2" y="476.2" font-size="8.2" text-anchor="middle" font-weight="bold" fill="#3a3a3a" >§§§</text>
<text x="484.5" y="456" font-size="14.5" text-anchor="start" font-weight="bold" fill="#1a1a1a" stroke="#1a1a1a" stroke-width="0.28">g</text>
<line x1="537.2" y1="467.4" x2="537.2" y2="604.5" stroke="#1c1c1c" stroke-width="1.8" />
<line x1="534.2" y1="603.5" x2="539.2" y2="603.5" stroke="#1c1c1c" stroke-width="1.3" />
<text x="530" y="606.05" font-size="9.3" text-anchor="end" font-weight="bold" fill="#1a1a1a" stroke="#1a1a1a" stroke-width="0.28">0</text>
<line x1="534.2" y1="580.8" x2="539.2" y2="580.8" stroke="#1c1c1c" stroke-width="1.3" />
<text x="530" y="583.35" font-size="9.3" text-anchor="end" font-weight="bold" fill="#1a1a1a" stroke="#1a1a1a" stroke-width="0.28">20</text>
<line x1="534.2" y1="558.1" x2="539.2" y2="558.1" stroke="#1c1c1c" stroke-width="1.3" />
<text x="530" y="560.65" font-size="9.3" text-anchor="end" font-weight="bold" fill="#1a1a1a" stroke="#1a1a1a" stroke-width="0.28">40</text>
<line x1="534.2" y1="535.4" x2="539.2" y2="535.4" stroke="#1c1c1c" stroke-width="1.3" />
<text x="530" y="537.95" font-size="9.3" text-anchor="end" font-weight="bold" fill="#1a1a1a" stroke="#1a1a1a" stroke-width="0.28">60</text>
<line x1="534.2" y1="512.7" x2="539.2" y2="512.7" stroke="#1c1c1c" stroke-width="1.3" />
<text x="530" y="515.25" font-size="9.3" text-anchor="end" font-weight="bold" fill="#1a1a1a" stroke="#1a1a1a" stroke-width="0.28">80</text>
<line x1="534.2" y1="490" x2="539.2" y2="490" stroke="#1c1c1c" stroke-width="1.3" />
<text x="530" y="492.55" font-size="9.3" text-anchor="end" font-weight="bold" fill="#1a1a1a" stroke="#1a1a1a" stroke-width="0.28">100</text>
<line x1="534.2" y1="467.3" x2="539.2" y2="467.3" stroke="#1c1c1c" stroke-width="1.3" />
<text x="530" y="469.85" font-size="9.3" text-anchor="end" font-weight="bold" fill="#1a1a1a" stroke="#1a1a1a" stroke-width="0.28">120</text>
<line x1="536.5" y1="603.7" x2="685" y2="603.7" stroke="#1c1c1c" stroke-width="1.8" />
<line x1="684.3" y1="601" x2="684.3" y2="606" stroke="#1c1c1c" stroke-width="1.4" />
<text transform="translate(488.5,535.6) rotate(-90)" x="0" y="3.42" font-size="9.5" text-anchor="middle" font-weight="bold" fill="#1a1a1a" stroke="#1a1a1a" stroke-width="0.28">DPP-4 Activity</text>
<text transform="translate(499,538.2) rotate(-90)" x="0" y="3.42" font-size="9.5" text-anchor="middle" font-weight="bold" fill="#333" stroke="#333" stroke-width="0.28">(%&#160; changes from control)</text>
<rect x="553.8" y="490" width="26.4" height="113.7" fill="#fff" stroke="#777" stroke-width="1.2"/>
<rect x="583.2" y="497.94" width="26" height="105.76" fill="#141414" stroke="#111" stroke-width="1.2"/>
<rect x="612.6" y="519.51" width="27.2" height="84.19" fill="url(#diag)" stroke="#111" stroke-width="1.2"/>
<rect x="642" y="535.97" width="26" height="67.73" fill="url(#hstrg)" stroke="#111" stroke-width="1.2"/>
<line x1="566.2" y1="474.68" x2="566.2" y2="505.32" stroke="#444" stroke-width="0.9" />
<line x1="564.45" y1="474.68" x2="567.95" y2="474.68" stroke="#444" stroke-width="0.9" />
<line x1="564.45" y1="505.32" x2="567.95" y2="505.32" stroke="#444" stroke-width="0.9" />
<line x1="596.3" y1="482.06" x2="596.3" y2="497.94" stroke="#444" stroke-width="0.9" />
<line x1="594.55" y1="482.06" x2="598.05" y2="482.06" stroke="#444" stroke-width="0.9" />
<line x1="594.55" y1="497.94" x2="598.05" y2="497.94" stroke="#444" stroke-width="0.9" />
<line x1="625.8" y1="508.73" x2="625.8" y2="530.29" stroke="#444" stroke-width="0.9" />
<line x1="624.05" y1="508.73" x2="627.55" y2="508.73" stroke="#444" stroke-width="0.9" />
<line x1="624.05" y1="530.29" x2="627.55" y2="530.29" stroke="#444" stroke-width="0.9" />
<line x1="655.2" y1="526.32" x2="655.2" y2="545.62" stroke="#444" stroke-width="0.9" />
<line x1="653.45" y1="526.32" x2="656.95" y2="526.32" stroke="#444" stroke-width="0.9" />
<line x1="653.45" y1="545.62" x2="656.95" y2="545.62" stroke="#444" stroke-width="0.9" />
</svg></body></html>
